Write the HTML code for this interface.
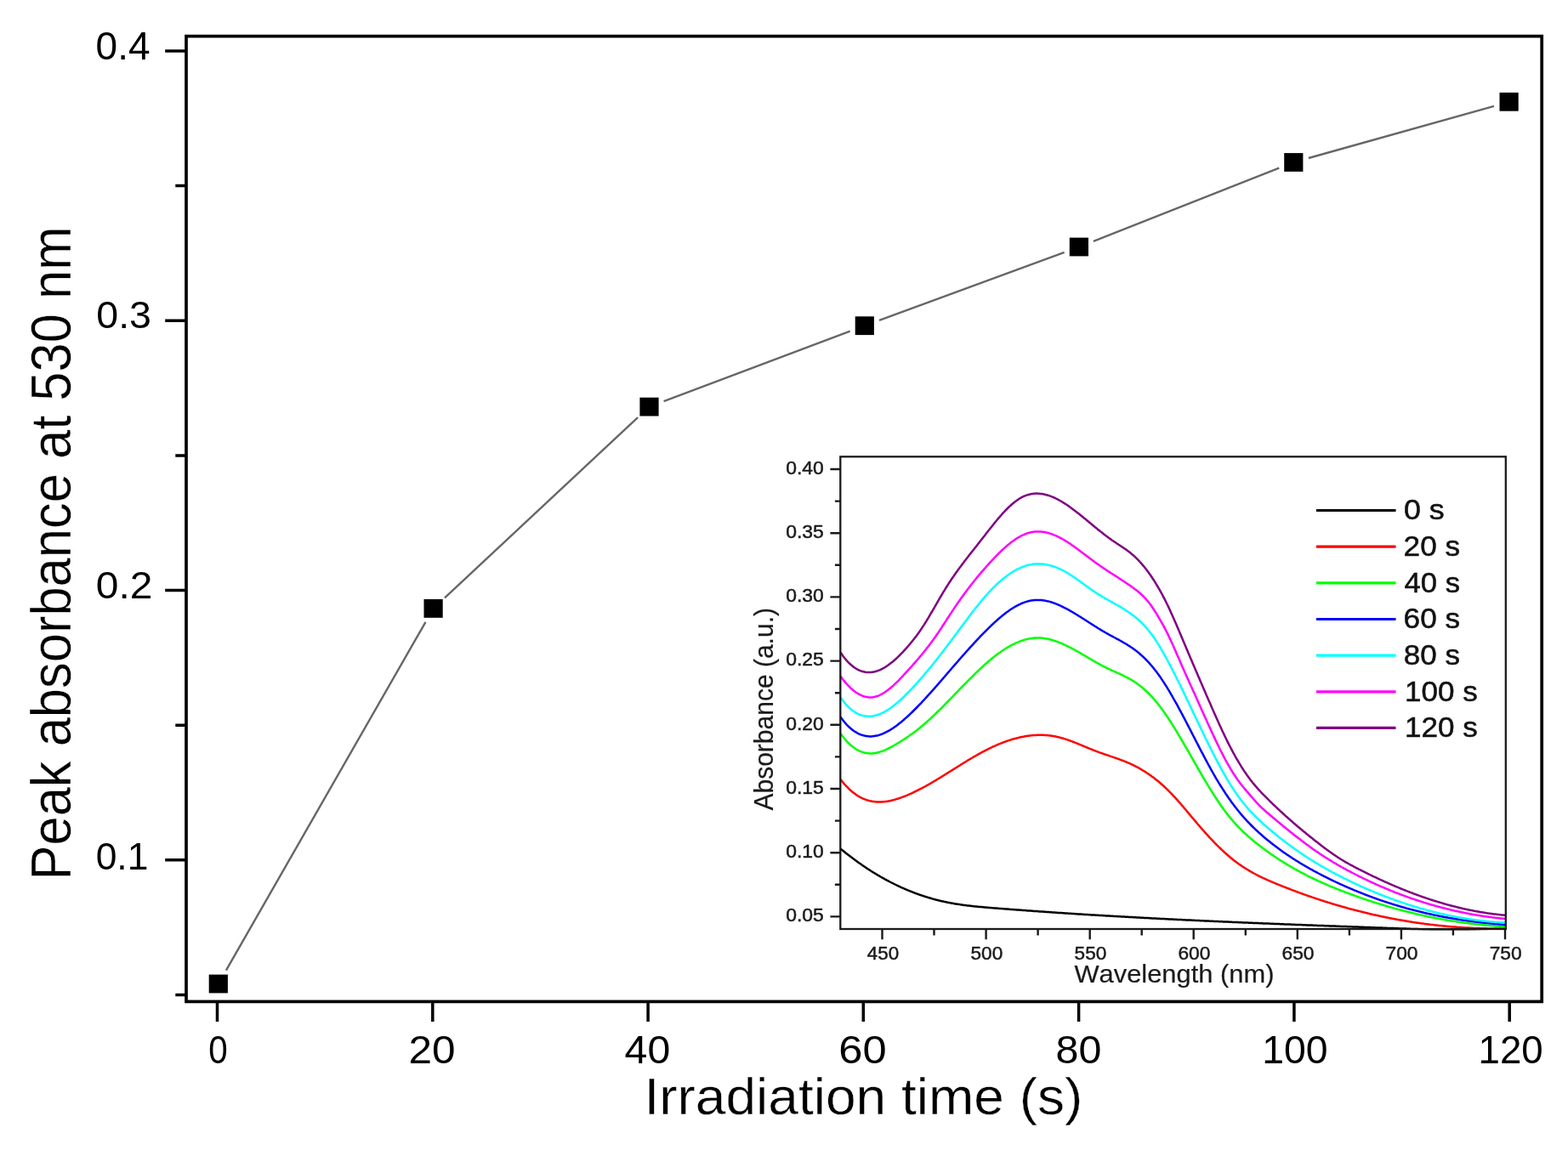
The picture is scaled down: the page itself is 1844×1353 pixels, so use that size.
<!DOCTYPE html><html><head><meta charset="utf-8"><title>Peak absorbance vs irradiation time</title>
<style>html,body{margin:0;padding:0;background:#fff;}svg{display:block;}text{font-family:'Liberation Sans',Arial,sans-serif;font-kerning:none;}</style></head><body>
<svg width="1844" height="1353" viewBox="0 0 1844 1353">
<rect width="1844" height="1353" fill="#fff"/>
<path d="M265.9,1141.6L500.5,731.8M523.0,703.4L750.1,491.1M780.6,472.1L999.7,389.7M1034.0,376.9L1251.7,296.8M1285.9,283.8L1504.3,197.7M1538.9,186.0L1757.0,124.8" stroke="#666" stroke-width="2.4" fill="none"/>
<rect x="245.7" y="1146.6" width="22.2" height="21.8" fill="#000"/>
<rect x="498.5" y="705.0" width="22.2" height="21.8" fill="#000"/>
<rect x="752.4" y="467.7" width="22.2" height="21.8" fill="#000"/>
<rect x="1005.7" y="372.3" width="22.2" height="21.8" fill="#000"/>
<rect x="1257.8" y="279.6" width="22.2" height="21.8" fill="#000"/>
<rect x="1510.2" y="180.1" width="22.2" height="21.8" fill="#000"/>
<rect x="1763.5" y="108.9" width="22.2" height="21.8" fill="#000"/>
<rect x="219.0" y="42.6" width="1594.2" height="1135.8" fill="none" stroke="#000" stroke-width="3.7"/>
<path d="M194.2,1011.8H219.0M194.2,694.5H219.0M194.2,377.3H219.0M194.2,60.0H219.0M206.3,1170.4H219.0M206.3,853.2H219.0M206.3,535.9H219.0M206.3,218.6H219.0M255.5,1178.4V1202M508.8,1178.4V1202M762.1,1178.4V1202M1015.3,1178.4V1202M1268.6,1178.4V1202M1521.9,1178.4V1202M1775.2,1178.4V1202" stroke="#000" stroke-width="3.5" fill="none"/>
<text transform="translate(112.60,70.25) scale(1.0052,1)" font-size="45.76" fill="#000">0.4</text>
<text transform="translate(113.28,385.96) scale(1.0406,1)" font-size="44.77" fill="#000">0.3</text>
<text transform="translate(112.83,703.67) scale(1.0851,1)" font-size="44.21" fill="#000">0.2</text>
<text transform="translate(112.67,1022.76) scale(0.9820,1)" font-size="45.20" fill="#000">0.1</text>
<text transform="translate(245.32,1251.05) scale(0.8742,1)" font-size="46.19" fill="#000">0</text>
<text transform="translate(480.51,1251.05) scale(1.0731,1)" font-size="46.19" fill="#000">20</text>
<text transform="translate(734.59,1251.05) scale(1.0431,1)" font-size="46.19" fill="#000">40</text>
<text transform="translate(986.23,1251.05) scale(1.0969,1)" font-size="46.19" fill="#000">60</text>
<text transform="translate(1241.50,1251.05) scale(1.0471,1)" font-size="46.19" fill="#000">80</text>
<text transform="translate(1484.27,1251.05) scale(1.0037,1)" font-size="46.19" fill="#000">100</text>
<text transform="translate(1738.52,1251.05) scale(0.9883,1)" font-size="46.19" fill="#000">120</text>
<text transform="translate(757.39,1311.20) scale(1.0569,1)" font-size="60.60" fill="#000" stroke="#fff" stroke-width="0.4">Irradiation time (s)</text>
<text transform="translate(83.00,1035.54) rotate(-90) scale(1,1.0734)" font-size="61.49" fill="#000" stroke="#fff" stroke-width="0.4">Peak absorbance at 530 nm</text>
<defs><clipPath id="ic"><rect x="988.3" y="537.3" width="782.5" height="557.2"/></clipPath></defs>
<g clip-path="url(#ic)" fill="none" stroke-width="2.5" stroke-linejoin="round">
<path d="M988.5,998.5 989.5,999.4 990.5,1000.2 991.5,1001.0 992.5,1001.8 993.5,1002.6 994.5,1003.4 995.5,1004.2 996.5,1005.0 997.5,1005.8 998.5,1006.5 999.5,1007.3 1000.5,1008.1 1001.5,1008.8 1002.5,1009.6 1003.5,1010.3 1004.5,1011.1 1005.5,1011.8 1006.5,1012.6 1007.5,1013.3 1008.5,1014.0 1009.5,1014.7 1010.5,1015.4 1011.5,1016.1 1012.5,1016.8 1013.5,1017.5 1014.5,1018.2 1015.5,1018.9 1016.5,1019.6 1017.5,1020.3 1018.5,1020.9 1019.5,1021.6 1020.5,1022.2 1021.5,1022.9 1022.5,1023.5 1023.5,1024.2 1024.5,1024.8 1025.5,1025.5 1026.5,1026.1 1027.5,1026.7 1028.5,1027.3 1029.5,1027.9 1030.5,1028.5 1031.5,1029.1 1032.5,1029.7 1033.5,1030.3 1034.5,1030.9 1035.5,1031.5 1036.5,1032.0 1037.5,1032.6 1038.5,1033.2 1039.5,1033.7 1040.5,1034.3 1041.5,1034.8 1042.5,1035.4 1043.5,1035.9 1044.5,1036.4 1045.5,1037.0 1046.5,1037.5 1047.5,1038.0 1048.5,1038.5 1049.5,1039.0 1050.5,1039.5 1051.5,1040.0 1052.5,1040.5 1053.5,1041.0 1054.5,1041.5 1055.5,1042.0 1056.5,1042.4 1057.5,1042.9 1058.5,1043.4 1059.5,1043.8 1060.5,1044.3 1061.5,1044.7 1062.5,1045.2 1063.5,1045.6 1064.5,1046.0 1065.5,1046.5 1066.5,1046.9 1067.5,1047.3 1068.5,1047.7 1069.5,1048.1 1070.5,1048.5 1071.5,1048.9 1072.5,1049.3 1073.5,1049.7 1074.5,1050.1 1075.5,1050.5 1076.5,1050.9 1077.5,1051.2 1078.5,1051.6 1079.5,1052.0 1080.5,1052.3 1081.5,1052.7 1082.5,1053.0 1083.5,1053.3 1084.5,1053.7 1085.5,1054.0 1086.5,1054.3 1087.5,1054.7 1088.5,1055.0 1089.5,1055.3 1090.5,1055.6 1091.5,1055.9 1092.5,1056.2 1093.5,1056.5 1094.5,1056.8 1095.5,1057.1 1096.5,1057.4 1097.5,1057.7 1098.5,1057.9 1099.5,1058.2 1100.5,1058.5 1101.5,1058.7 1102.5,1059.0 1103.5,1059.2 1104.5,1059.5 1105.5,1059.7 1106.5,1060.0 1107.5,1060.2 1108.5,1060.4 1109.5,1060.6 1110.5,1060.9 1111.5,1061.1 1112.5,1061.3 1113.5,1061.5 1114.5,1061.7 1115.5,1061.9 1116.5,1062.1 1117.5,1062.3 1118.5,1062.5 1119.5,1062.7 1120.5,1062.8 1121.5,1063.0 1122.5,1063.2 1123.5,1063.4 1124.5,1063.5 1125.5,1063.7 1126.5,1063.8 1127.5,1064.0 1128.5,1064.1 1129.5,1064.3 1130.5,1064.4 1131.5,1064.6 1132.5,1064.7 1133.5,1064.9 1134.5,1065.0 1135.5,1065.1 1136.5,1065.2 1137.5,1065.4 1138.5,1065.5 1139.5,1065.6 1140.5,1065.7 1141.5,1065.8 1142.5,1066.0 1143.5,1066.1 1144.5,1066.2 1145.5,1066.3 1146.5,1066.4 1147.5,1066.5 1148.5,1066.6 1149.5,1066.7 1150.5,1066.8 1151.5,1066.9 1152.5,1067.0 1153.5,1067.1 1154.5,1067.1 1155.5,1067.2 1156.5,1067.3 1157.5,1067.4 1158.5,1067.5 1159.5,1067.6 1160.5,1067.7 1161.5,1067.8 1162.5,1067.8 1163.5,1067.9 1164.5,1068.0 1165.5,1068.1 1166.5,1068.2 1167.5,1068.2 1168.5,1068.3 1169.5,1068.4 1170.5,1068.5 1171.5,1068.6 1172.5,1068.6 1173.5,1068.7 1174.5,1068.8 1175.5,1068.9 1176.5,1069.0 1177.5,1069.0 1178.5,1069.1 1179.5,1069.2 1180.5,1069.3 1181.5,1069.3 1182.5,1069.4 1183.5,1069.5 1184.5,1069.6 1185.5,1069.6 1186.5,1069.7 1187.5,1069.8 1188.5,1069.9 1189.5,1070.0 1190.5,1070.0 1191.5,1070.1 1192.5,1070.2 1193.5,1070.3 1194.5,1070.3 1195.5,1070.4 1196.5,1070.5 1197.5,1070.6 1198.5,1070.6 1199.5,1070.7 1200.5,1070.8 1201.5,1070.8 1202.5,1070.9 1203.5,1071.0 1204.5,1071.1 1205.5,1071.1 1206.5,1071.2 1207.5,1071.3 1208.5,1071.4 1209.5,1071.4 1210.5,1071.5 1211.5,1071.6 1212.5,1071.6 1213.5,1071.7 1214.5,1071.8 1215.5,1071.9 1216.5,1071.9 1217.5,1072.0 1218.5,1072.1 1219.5,1072.1 1220.5,1072.2 1221.5,1072.3 1222.5,1072.4 1223.5,1072.4 1224.5,1072.5 1225.5,1072.6 1226.5,1072.6 1227.5,1072.7 1228.5,1072.8 1229.5,1072.8 1230.5,1072.9 1231.5,1073.0 1232.5,1073.1 1233.5,1073.1 1234.5,1073.2 1235.5,1073.3 1236.5,1073.3 1237.5,1073.4 1238.5,1073.5 1239.5,1073.5 1240.5,1073.6 1241.5,1073.7 1242.5,1073.7 1243.5,1073.8 1244.5,1073.9 1245.5,1073.9 1246.5,1074.0 1247.5,1074.1 1248.5,1074.1 1249.5,1074.2 1250.5,1074.3 1251.5,1074.3 1252.5,1074.4 1253.5,1074.5 1254.5,1074.5 1255.5,1074.6 1256.5,1074.7 1257.5,1074.7 1258.5,1074.8 1259.5,1074.8 1260.5,1074.9 1261.5,1075.0 1262.5,1075.0 1263.5,1075.1 1264.5,1075.2 1265.5,1075.2 1266.5,1075.3 1267.5,1075.4 1268.5,1075.4 1269.5,1075.5 1270.5,1075.5 1271.5,1075.6 1272.5,1075.7 1273.5,1075.7 1274.5,1075.8 1275.5,1075.9 1276.5,1075.9 1277.5,1076.0 1278.5,1076.0 1279.5,1076.1 1280.5,1076.2 1281.5,1076.2 1282.5,1076.3 1283.5,1076.4 1284.5,1076.4 1285.5,1076.5 1286.5,1076.5 1287.5,1076.6 1288.5,1076.7 1289.5,1076.7 1290.5,1076.8 1291.5,1076.8 1292.5,1076.9 1293.5,1077.0 1294.5,1077.0 1295.5,1077.1 1296.5,1077.1 1297.5,1077.2 1298.5,1077.2 1299.5,1077.3 1300.5,1077.4 1301.5,1077.4 1302.5,1077.5 1303.5,1077.5 1304.5,1077.6 1305.5,1077.7 1306.5,1077.7 1307.5,1077.8 1308.5,1077.8 1309.5,1077.9 1310.5,1077.9 1311.5,1078.0 1312.5,1078.1 1313.5,1078.1 1314.5,1078.2 1315.5,1078.2 1316.5,1078.3 1317.5,1078.3 1318.5,1078.4 1319.5,1078.5 1320.5,1078.5 1321.5,1078.6 1322.5,1078.6 1323.5,1078.7 1324.5,1078.7 1325.5,1078.8 1326.5,1078.8 1327.5,1078.9 1328.5,1079.0 1329.5,1079.0 1330.5,1079.1 1331.5,1079.1 1332.5,1079.2 1333.5,1079.2 1334.5,1079.3 1335.5,1079.3 1336.5,1079.4 1337.5,1079.5 1338.5,1079.5 1339.5,1079.6 1340.5,1079.6 1341.5,1079.7 1342.5,1079.7 1343.5,1079.8 1344.5,1079.8 1345.5,1079.9 1346.5,1079.9 1347.5,1080.0 1348.5,1080.0 1349.5,1080.1 1350.5,1080.1 1351.5,1080.2 1352.5,1080.2 1353.5,1080.3 1354.5,1080.4 1355.5,1080.4 1356.5,1080.5 1357.5,1080.5 1358.5,1080.6 1359.5,1080.6 1360.5,1080.7 1361.5,1080.7 1362.5,1080.8 1363.5,1080.8 1364.5,1080.9 1365.5,1080.9 1366.5,1081.0 1367.5,1081.0 1368.5,1081.1 1369.5,1081.1 1370.5,1081.2 1371.5,1081.2 1372.5,1081.3 1373.5,1081.3 1374.5,1081.4 1375.5,1081.4 1376.5,1081.5 1377.5,1081.5 1378.5,1081.6 1379.5,1081.6 1380.5,1081.7 1381.5,1081.7 1382.5,1081.8 1383.5,1081.8 1384.5,1081.9 1385.5,1081.9 1386.5,1082.0 1387.5,1082.0 1388.5,1082.1 1389.5,1082.1 1390.5,1082.2 1391.5,1082.2 1392.5,1082.3 1393.5,1082.3 1394.5,1082.4 1395.5,1082.4 1396.5,1082.4 1397.5,1082.5 1398.5,1082.5 1399.5,1082.6 1400.5,1082.6 1401.5,1082.7 1402.5,1082.7 1403.5,1082.8 1404.5,1082.8 1405.5,1082.9 1406.5,1082.9 1407.5,1083.0 1408.5,1083.0 1409.5,1083.1 1410.5,1083.1 1411.5,1083.2 1412.5,1083.2 1413.5,1083.2 1414.5,1083.3 1415.5,1083.3 1416.5,1083.4 1417.5,1083.4 1418.5,1083.5 1419.5,1083.5 1420.5,1083.6 1421.5,1083.6 1422.5,1083.7 1423.5,1083.7 1424.5,1083.7 1425.5,1083.8 1426.5,1083.8 1427.5,1083.9 1428.5,1083.9 1429.5,1084.0 1430.5,1084.0 1431.5,1084.1 1432.5,1084.1 1433.5,1084.2 1434.5,1084.2 1435.5,1084.2 1436.5,1084.3 1437.5,1084.3 1438.5,1084.4 1439.5,1084.4 1440.5,1084.5 1441.5,1084.5 1442.5,1084.5 1443.5,1084.6 1444.5,1084.6 1445.5,1084.7 1446.5,1084.7 1447.5,1084.8 1448.5,1084.8 1449.5,1084.9 1450.5,1084.9 1451.5,1084.9 1452.5,1085.0 1453.5,1085.0 1454.5,1085.1 1455.5,1085.1 1456.5,1085.2 1457.5,1085.2 1458.5,1085.2 1459.5,1085.3 1460.5,1085.3 1461.5,1085.4 1462.5,1085.4 1463.5,1085.5 1464.5,1085.5 1465.5,1085.5 1466.5,1085.6 1467.5,1085.6 1468.5,1085.7 1469.5,1085.7 1470.5,1085.7 1471.5,1085.8 1472.5,1085.8 1473.5,1085.9 1474.5,1085.9 1475.5,1086.0 1476.5,1086.0 1477.5,1086.0 1478.5,1086.1 1479.5,1086.1 1480.5,1086.2 1481.5,1086.2 1482.5,1086.2 1483.5,1086.3 1484.5,1086.3 1485.5,1086.4 1486.5,1086.4 1487.5,1086.4 1488.5,1086.5 1489.5,1086.5 1490.5,1086.6 1491.5,1086.6 1492.5,1086.6 1493.5,1086.7 1494.5,1086.7 1495.5,1086.8 1496.5,1086.8 1497.5,1086.8 1498.5,1086.9 1499.5,1086.9 1500.5,1087.0 1501.5,1087.0 1502.5,1087.0 1503.5,1087.1 1504.5,1087.1 1505.5,1087.2 1506.5,1087.2 1507.5,1087.2 1508.5,1087.3 1509.5,1087.3 1510.5,1087.4 1511.5,1087.4 1512.5,1087.4 1513.5,1087.5 1514.5,1087.5 1515.5,1087.6 1516.5,1087.6 1517.5,1087.6 1518.5,1087.7 1519.5,1087.7 1520.5,1087.8 1521.5,1087.8 1522.5,1087.8 1523.5,1087.9 1524.5,1087.9 1525.5,1087.9 1526.5,1088.0 1527.5,1088.0 1528.5,1088.1 1529.5,1088.1 1530.5,1088.1 1531.5,1088.2 1532.5,1088.2 1533.5,1088.3 1534.5,1088.3 1535.5,1088.3 1536.5,1088.4 1537.5,1088.4 1538.5,1088.4 1539.5,1088.5 1540.5,1088.5 1541.5,1088.6 1542.5,1088.6 1543.5,1088.6 1544.5,1088.7 1545.5,1088.7 1546.5,1088.7 1547.5,1088.8 1548.5,1088.8 1549.5,1088.9 1550.5,1088.9 1551.5,1088.9 1552.5,1089.0 1553.5,1089.0 1554.5,1089.0 1555.5,1089.1 1556.5,1089.1 1557.5,1089.2 1558.5,1089.2 1559.5,1089.2 1560.5,1089.3 1561.5,1089.3 1562.5,1089.3 1563.5,1089.4 1564.5,1089.4 1565.5,1089.5 1566.5,1089.5 1567.5,1089.5 1568.5,1089.6 1569.5,1089.6 1570.5,1089.6 1571.5,1089.7 1572.5,1089.7 1573.5,1089.8 1574.5,1089.8 1575.5,1089.8 1576.5,1089.9 1577.5,1089.9 1578.5,1089.9 1579.5,1090.0 1580.5,1090.0 1581.5,1090.0 1582.5,1090.1 1583.5,1090.1 1584.5,1090.2 1585.5,1090.2 1586.5,1090.2 1587.5,1090.3 1588.5,1090.3 1589.5,1090.3 1590.5,1090.4 1591.5,1090.4 1592.5,1090.5 1593.5,1090.5 1594.5,1090.5 1595.5,1090.6 1596.5,1090.6 1597.5,1090.6 1598.5,1090.7 1599.5,1090.7 1600.5,1090.7 1601.5,1090.8 1602.5,1090.8 1603.5,1090.8 1604.5,1090.9 1605.5,1090.9 1606.5,1091.0 1607.5,1091.0 1608.5,1091.0 1609.5,1091.1 1610.5,1091.1 1611.5,1091.1 1612.5,1091.2 1613.5,1091.2 1614.5,1091.2 1615.5,1091.3 1616.5,1091.3 1617.5,1091.4 1618.5,1091.4 1619.5,1091.4 1620.5,1091.5 1621.5,1091.5 1622.5,1091.5 1623.5,1091.6 1624.5,1091.6 1625.5,1091.6 1626.5,1091.7 1627.5,1091.7 1628.5,1091.7 1629.5,1091.8 1630.5,1091.8 1631.5,1091.9 1632.5,1091.9 1633.5,1091.9 1634.5,1092.0 1635.5,1092.0 1636.5,1092.0 1637.5,1092.1 1638.5,1092.1 1639.5,1092.1 1640.5,1092.2 1641.5,1092.2 1642.5,1092.3 1643.5,1092.3 1644.5,1092.3 1645.5,1092.4 1646.5,1092.4 1647.5,1092.4 1648.5,1092.5 1649.5,1092.5 1650.5,1092.5 1651.5,1092.6 1652.5,1092.6 1653.5,1092.6 1654.5,1092.7 1655.5,1092.7 1656.5,1092.8 1657.5,1092.8 1658.5,1092.8 1659.5,1092.9 1660.5,1092.9 1661.5,1092.9 1662.5,1093.0 1663.5,1093.0 1664.5,1093.0 1665.5,1093.1 1666.5,1093.1 1667.5,1093.1 1668.5,1093.2 1669.5,1093.2 1670.5,1093.3 1671.5,1093.3 1672.5,1093.3 1673.5,1093.4 1674.5,1093.4 1675.5,1093.4 1676.5,1093.5 1677.5,1093.5 1678.5,1093.5 1679.5,1093.6 1680.5,1093.6 1681.5,1093.7 1682.5,1093.7 1683.5,1093.7 1684.5,1093.8 1685.5,1093.8 1686.5,1093.8 1687.5,1093.9 1688.5,1093.9 1689.5,1093.9 1690.5,1094.0 1691.5,1094.0 1692.5,1094.1 1693.5,1094.1 1694.5,1094.1 1695.5,1094.2 1696.5,1094.2 1697.5,1094.2 1698.5,1094.3 1699.5,1094.3 1700.5,1094.3 1701.5,1094.4 1702.5,1094.4 1703.5,1094.5 1704.5,1094.5 1705.5,1094.5 1706.5,1094.6 1707.5,1094.6 1708.5,1094.6 1709.5,1094.7 1710.5,1094.7 1711.5,1094.7 1712.5,1094.8 1713.5,1094.8 1714.5,1094.9 1715.5,1094.9 1716.5,1094.9 1717.5,1095.0 1718.5,1095.0 1719.5,1095.0 1720.5,1095.1 1721.5,1095.1 1722.5,1095.1 1723.5,1095.2 1724.5,1095.2 1725.5,1095.3 1726.5,1095.3 1727.5,1095.3 1728.5,1095.4 1729.5,1095.4 1730.5,1095.4 1731.5,1095.5 1732.5,1095.5 1733.5,1095.6 1734.5,1095.6 1735.5,1095.6 1736.5,1095.7 1737.5,1095.7 1738.5,1095.7 1739.5,1095.8 1740.5,1095.8 1741.5,1095.9 1742.5,1095.9 1743.5,1095.9 1744.5,1096.0 1745.5,1096.0 1746.5,1096.0 1747.5,1096.1 1748.5,1096.1 1749.5,1096.2 1750.5,1096.2 1751.5,1096.2 1752.5,1096.3 1753.5,1096.3 1754.5,1096.3 1755.5,1096.4 1756.5,1096.4 1757.5,1096.5 1758.5,1096.5 1759.5,1096.5 1760.5,1096.6 1761.5,1096.6 1762.5,1096.7 1763.5,1096.7 1764.5,1096.7 1765.5,1096.8 1766.5,1096.8 1767.5,1096.8 1768.5,1096.9 1769.5,1096.9 1770.5,1097.0" stroke="#000000"/>
<path d="M988.5,916.9 989.5,918.2 990.5,919.5 991.5,920.7 992.5,921.9 993.5,923.0 994.5,924.1 995.5,925.2 996.5,926.2 997.5,927.2 998.5,928.2 999.5,929.1 1000.5,930.0 1001.5,930.9 1002.5,931.7 1003.5,932.5 1004.5,933.3 1005.5,934.0 1006.5,934.8 1007.5,935.4 1008.5,936.1 1009.5,936.7 1010.5,937.3 1011.5,937.8 1012.5,938.4 1013.5,938.9 1014.5,939.3 1015.5,939.8 1016.5,940.2 1017.5,940.6 1018.5,940.9 1019.5,941.3 1020.5,941.6 1021.5,941.9 1022.5,942.1 1023.5,942.4 1024.5,942.6 1025.5,942.8 1026.5,943.0 1027.5,943.1 1028.5,943.2 1029.5,943.3 1030.5,943.4 1031.5,943.5 1032.5,943.5 1033.5,943.5 1034.5,943.5 1035.5,943.5 1036.5,943.5 1037.5,943.4 1038.5,943.3 1039.5,943.3 1040.5,943.2 1041.5,943.0 1042.5,942.9 1043.5,942.7 1044.5,942.6 1045.5,942.4 1046.5,942.2 1047.5,942.0 1048.5,941.7 1049.5,941.5 1050.5,941.2 1051.5,941.0 1052.5,940.7 1053.5,940.4 1054.5,940.1 1055.5,939.8 1056.5,939.5 1057.5,939.1 1058.5,938.8 1059.5,938.4 1060.5,938.1 1061.5,937.7 1062.5,937.3 1063.5,937.0 1064.5,936.6 1065.5,936.2 1066.5,935.8 1067.5,935.3 1068.5,934.9 1069.5,934.5 1070.5,934.0 1071.5,933.6 1072.5,933.1 1073.5,932.7 1074.5,932.2 1075.5,931.7 1076.5,931.2 1077.5,930.7 1078.5,930.2 1079.5,929.7 1080.5,929.2 1081.5,928.7 1082.5,928.2 1083.5,927.7 1084.5,927.1 1085.5,926.6 1086.5,926.1 1087.5,925.5 1088.5,925.0 1089.5,924.4 1090.5,923.8 1091.5,923.3 1092.5,922.7 1093.5,922.1 1094.5,921.6 1095.5,921.0 1096.5,920.4 1097.5,919.8 1098.5,919.2 1099.5,918.6 1100.5,918.0 1101.5,917.4 1102.5,916.8 1103.5,916.2 1104.5,915.6 1105.5,915.0 1106.5,914.4 1107.5,913.7 1108.5,913.1 1109.5,912.5 1110.5,911.9 1111.5,911.3 1112.5,910.6 1113.5,910.0 1114.5,909.4 1115.5,908.8 1116.5,908.1 1117.5,907.5 1118.5,906.9 1119.5,906.2 1120.5,905.6 1121.5,905.0 1122.5,904.4 1123.5,903.7 1124.5,903.1 1125.5,902.5 1126.5,901.8 1127.5,901.2 1128.5,900.6 1129.5,900.0 1130.5,899.3 1131.5,898.7 1132.5,898.1 1133.5,897.5 1134.5,896.9 1135.5,896.3 1136.5,895.7 1137.5,895.0 1138.5,894.4 1139.5,893.8 1140.5,893.2 1141.5,892.6 1142.5,892.0 1143.5,891.5 1144.5,890.9 1145.5,890.3 1146.5,889.7 1147.5,889.1 1148.5,888.6 1149.5,888.0 1150.5,887.4 1151.5,886.9 1152.5,886.3 1153.5,885.8 1154.5,885.2 1155.5,884.7 1156.5,884.2 1157.5,883.6 1158.5,883.1 1159.5,882.6 1160.5,882.1 1161.5,881.6 1162.5,881.1 1163.5,880.6 1164.5,880.1 1165.5,879.6 1166.5,879.2 1167.5,878.7 1168.5,878.2 1169.5,877.8 1170.5,877.3 1171.5,876.9 1172.5,876.5 1173.5,876.0 1174.5,875.6 1175.5,875.2 1176.5,874.8 1177.5,874.4 1178.5,874.0 1179.5,873.6 1180.5,873.2 1181.5,872.8 1182.5,872.5 1183.5,872.1 1184.5,871.8 1185.5,871.4 1186.5,871.1 1187.5,870.8 1188.5,870.5 1189.5,870.1 1190.5,869.8 1191.5,869.5 1192.5,869.3 1193.5,869.0 1194.5,868.7 1195.5,868.5 1196.5,868.2 1197.5,868.0 1198.5,867.7 1199.5,867.5 1200.5,867.3 1201.5,867.1 1202.5,866.9 1203.5,866.7 1204.5,866.5 1205.5,866.3 1206.5,866.1 1207.5,866.0 1208.5,865.8 1209.5,865.7 1210.5,865.6 1211.5,865.4 1212.5,865.3 1213.5,865.2 1214.5,865.1 1215.5,865.0 1216.5,865.0 1217.5,864.9 1218.5,864.9 1219.5,864.8 1220.5,864.8 1221.5,864.8 1222.5,864.8 1223.5,864.7 1224.5,864.8 1225.5,864.8 1226.5,864.8 1227.5,864.8 1228.5,864.9 1229.5,865.0 1230.5,865.0 1231.5,865.1 1232.5,865.2 1233.5,865.3 1234.5,865.4 1235.5,865.5 1236.5,865.7 1237.5,865.8 1238.5,866.0 1239.5,866.2 1240.5,866.3 1241.5,866.5 1242.5,866.7 1243.5,867.0 1244.5,867.2 1245.5,867.4 1246.5,867.7 1247.5,868.0 1248.5,868.2 1249.5,868.5 1250.5,868.8 1251.5,869.1 1252.5,869.4 1253.5,869.8 1254.5,870.1 1255.5,870.4 1256.5,870.8 1257.5,871.1 1258.5,871.5 1259.5,871.9 1260.5,872.2 1261.5,872.6 1262.5,873.0 1263.5,873.4 1264.5,873.8 1265.5,874.2 1266.5,874.6 1267.5,875.0 1268.5,875.4 1269.5,875.8 1270.5,876.2 1271.5,876.6 1272.5,877.1 1273.5,877.5 1274.5,877.9 1275.5,878.3 1276.5,878.7 1277.5,879.1 1278.5,879.6 1279.5,880.0 1280.5,880.4 1281.5,880.8 1282.5,881.2 1283.5,881.6 1284.5,882.0 1285.5,882.4 1286.5,882.8 1287.5,883.2 1288.5,883.6 1289.5,884.0 1290.5,884.3 1291.5,884.7 1292.5,885.1 1293.5,885.4 1294.5,885.8 1295.5,886.1 1296.5,886.5 1297.5,886.8 1298.5,887.2 1299.5,887.5 1300.5,887.9 1301.5,888.2 1302.5,888.5 1303.5,888.9 1304.5,889.2 1305.5,889.6 1306.5,889.9 1307.5,890.2 1308.5,890.6 1309.5,890.9 1310.5,891.3 1311.5,891.6 1312.5,892.0 1313.5,892.3 1314.5,892.7 1315.5,893.0 1316.5,893.4 1317.5,893.8 1318.5,894.2 1319.5,894.5 1320.5,894.9 1321.5,895.3 1322.5,895.7 1323.5,896.1 1324.5,896.5 1325.5,896.9 1326.5,897.4 1327.5,897.8 1328.5,898.2 1329.5,898.7 1330.5,899.1 1331.5,899.6 1332.5,900.1 1333.5,900.6 1334.5,901.1 1335.5,901.6 1336.5,902.1 1337.5,902.6 1338.5,903.2 1339.5,903.7 1340.5,904.3 1341.5,904.9 1342.5,905.5 1343.5,906.1 1344.5,906.7 1345.5,907.3 1346.5,907.9 1347.5,908.5 1348.5,909.2 1349.5,909.9 1350.5,910.5 1351.5,911.2 1352.5,911.9 1353.5,912.6 1354.5,913.4 1355.5,914.1 1356.5,914.8 1357.5,915.6 1358.5,916.4 1359.5,917.2 1360.5,918.0 1361.5,918.8 1362.5,919.6 1363.5,920.4 1364.5,921.3 1365.5,922.2 1366.5,923.0 1367.5,923.9 1368.5,924.8 1369.5,925.8 1370.5,926.7 1371.5,927.6 1372.5,928.6 1373.5,929.6 1374.5,930.6 1375.5,931.6 1376.5,932.6 1377.5,933.6 1378.5,934.7 1379.5,935.8 1380.5,936.8 1381.5,937.9 1382.5,939.0 1383.5,940.1 1384.5,941.2 1385.5,942.4 1386.5,943.5 1387.5,944.6 1388.5,945.8 1389.5,947.0 1390.5,948.1 1391.5,949.3 1392.5,950.5 1393.5,951.6 1394.5,952.8 1395.5,954.0 1396.5,955.2 1397.5,956.4 1398.5,957.6 1399.5,958.8 1400.5,960.0 1401.5,961.2 1402.5,962.4 1403.5,963.5 1404.5,964.7 1405.5,965.9 1406.5,967.1 1407.5,968.3 1408.5,969.5 1409.5,970.6 1410.5,971.8 1411.5,973.0 1412.5,974.1 1413.5,975.3 1414.5,976.4 1415.5,977.5 1416.5,978.7 1417.5,979.8 1418.5,980.9 1419.5,982.0 1420.5,983.1 1421.5,984.2 1422.5,985.3 1423.5,986.3 1424.5,987.4 1425.5,988.4 1426.5,989.5 1427.5,990.5 1428.5,991.6 1429.5,992.6 1430.5,993.6 1431.5,994.6 1432.5,995.6 1433.5,996.6 1434.5,997.5 1435.5,998.5 1436.5,999.5 1437.5,1000.4 1438.5,1001.3 1439.5,1002.3 1440.5,1003.2 1441.5,1004.1 1442.5,1005.0 1443.5,1005.8 1444.5,1006.7 1445.5,1007.6 1446.5,1008.4 1447.5,1009.2 1448.5,1010.1 1449.5,1010.9 1450.5,1011.7 1451.5,1012.5 1452.5,1013.2 1453.5,1014.0 1454.5,1014.7 1455.5,1015.5 1456.5,1016.2 1457.5,1016.9 1458.5,1017.6 1459.5,1018.3 1460.5,1019.0 1461.5,1019.7 1462.5,1020.3 1463.5,1021.0 1464.5,1021.6 1465.5,1022.2 1466.5,1022.8 1467.5,1023.4 1468.5,1024.0 1469.5,1024.6 1470.5,1025.2 1471.5,1025.8 1472.5,1026.4 1473.5,1026.9 1474.5,1027.5 1475.5,1028.0 1476.5,1028.5 1477.5,1029.0 1478.5,1029.6 1479.5,1030.1 1480.5,1030.6 1481.5,1031.1 1482.5,1031.6 1483.5,1032.1 1484.5,1032.5 1485.5,1033.0 1486.5,1033.5 1487.5,1033.9 1488.5,1034.4 1489.5,1034.8 1490.5,1035.3 1491.5,1035.7 1492.5,1036.2 1493.5,1036.6 1494.5,1037.0 1495.5,1037.5 1496.5,1037.9 1497.5,1038.3 1498.5,1038.7 1499.5,1039.1 1500.5,1039.6 1501.5,1040.0 1502.5,1040.4 1503.5,1040.8 1504.5,1041.2 1505.5,1041.6 1506.5,1042.0 1507.5,1042.4 1508.5,1042.8 1509.5,1043.2 1510.5,1043.6 1511.5,1044.0 1512.5,1044.4 1513.5,1044.8 1514.5,1045.1 1515.5,1045.5 1516.5,1045.9 1517.5,1046.3 1518.5,1046.7 1519.5,1047.1 1520.5,1047.4 1521.5,1047.8 1522.5,1048.2 1523.5,1048.6 1524.5,1049.0 1525.5,1049.3 1526.5,1049.7 1527.5,1050.1 1528.5,1050.4 1529.5,1050.8 1530.5,1051.2 1531.5,1051.5 1532.5,1051.9 1533.5,1052.2 1534.5,1052.6 1535.5,1052.9 1536.5,1053.3 1537.5,1053.7 1538.5,1054.0 1539.5,1054.4 1540.5,1054.7 1541.5,1055.0 1542.5,1055.4 1543.5,1055.7 1544.5,1056.1 1545.5,1056.4 1546.5,1056.7 1547.5,1057.1 1548.5,1057.4 1549.5,1057.7 1550.5,1058.1 1551.5,1058.4 1552.5,1058.7 1553.5,1059.1 1554.5,1059.4 1555.5,1059.7 1556.5,1060.0 1557.5,1060.4 1558.5,1060.7 1559.5,1061.0 1560.5,1061.3 1561.5,1061.6 1562.5,1061.9 1563.5,1062.2 1564.5,1062.5 1565.5,1062.9 1566.5,1063.2 1567.5,1063.5 1568.5,1063.8 1569.5,1064.1 1570.5,1064.4 1571.5,1064.7 1572.5,1065.0 1573.5,1065.3 1574.5,1065.5 1575.5,1065.8 1576.5,1066.1 1577.5,1066.4 1578.5,1066.7 1579.5,1067.0 1580.5,1067.3 1581.5,1067.5 1582.5,1067.8 1583.5,1068.1 1584.5,1068.4 1585.5,1068.7 1586.5,1068.9 1587.5,1069.2 1588.5,1069.5 1589.5,1069.7 1590.5,1070.0 1591.5,1070.3 1592.5,1070.5 1593.5,1070.8 1594.5,1071.1 1595.5,1071.3 1596.5,1071.6 1597.5,1071.8 1598.5,1072.1 1599.5,1072.3 1600.5,1072.6 1601.5,1072.8 1602.5,1073.1 1603.5,1073.3 1604.5,1073.6 1605.5,1073.8 1606.5,1074.1 1607.5,1074.3 1608.5,1074.5 1609.5,1074.8 1610.5,1075.0 1611.5,1075.3 1612.5,1075.5 1613.5,1075.7 1614.5,1075.9 1615.5,1076.2 1616.5,1076.4 1617.5,1076.6 1618.5,1076.8 1619.5,1077.1 1620.5,1077.3 1621.5,1077.5 1622.5,1077.7 1623.5,1077.9 1624.5,1078.1 1625.5,1078.4 1626.5,1078.6 1627.5,1078.8 1628.5,1079.0 1629.5,1079.2 1630.5,1079.4 1631.5,1079.6 1632.5,1079.8 1633.5,1080.0 1634.5,1080.2 1635.5,1080.4 1636.5,1080.6 1637.5,1080.8 1638.5,1081.0 1639.5,1081.2 1640.5,1081.3 1641.5,1081.5 1642.5,1081.7 1643.5,1081.9 1644.5,1082.1 1645.5,1082.3 1646.5,1082.4 1647.5,1082.6 1648.5,1082.8 1649.5,1083.0 1650.5,1083.1 1651.5,1083.3 1652.5,1083.5 1653.5,1083.6 1654.5,1083.8 1655.5,1084.0 1656.5,1084.1 1657.5,1084.3 1658.5,1084.4 1659.5,1084.6 1660.5,1084.8 1661.5,1084.9 1662.5,1085.1 1663.5,1085.2 1664.5,1085.4 1665.5,1085.5 1666.5,1085.7 1667.5,1085.8 1668.5,1086.0 1669.5,1086.1 1670.5,1086.2 1671.5,1086.4 1672.5,1086.5 1673.5,1086.6 1674.5,1086.8 1675.5,1086.9 1676.5,1087.0 1677.5,1087.2 1678.5,1087.3 1679.5,1087.4 1680.5,1087.5 1681.5,1087.7 1682.5,1087.8 1683.5,1087.9 1684.5,1088.0 1685.5,1088.1 1686.5,1088.3 1687.5,1088.4 1688.5,1088.5 1689.5,1088.6 1690.5,1088.7 1691.5,1088.8 1692.5,1088.9 1693.5,1089.0 1694.5,1089.1 1695.5,1089.2 1696.5,1089.3 1697.5,1089.4 1698.5,1089.5 1699.5,1089.6 1700.5,1089.7 1701.5,1089.8 1702.5,1089.9 1703.5,1090.0 1704.5,1090.1 1705.5,1090.2 1706.5,1090.2 1707.5,1090.3 1708.5,1090.4 1709.5,1090.5 1710.5,1090.6 1711.5,1090.6 1712.5,1090.7 1713.5,1090.8 1714.5,1090.9 1715.5,1090.9 1716.5,1091.0 1717.5,1091.1 1718.5,1091.1 1719.5,1091.2 1720.5,1091.2 1721.5,1091.3 1722.5,1091.4 1723.5,1091.4 1724.5,1091.5 1725.5,1091.5 1726.5,1091.6 1727.5,1091.6 1728.5,1091.7 1729.5,1091.7 1730.5,1091.8 1731.5,1091.8 1732.5,1091.9 1733.5,1091.9 1734.5,1091.9 1735.5,1092.0 1736.5,1092.0 1737.5,1092.1 1738.5,1092.1 1739.5,1092.1 1740.5,1092.2 1741.5,1092.2 1742.5,1092.2 1743.5,1092.2 1744.5,1092.3 1745.5,1092.3 1746.5,1092.3 1747.5,1092.3 1748.5,1092.3 1749.5,1092.4 1750.5,1092.4 1751.5,1092.4 1752.5,1092.4 1753.5,1092.4 1754.5,1092.4 1755.5,1092.4 1756.5,1092.4 1757.5,1092.4 1758.5,1092.4 1759.5,1092.4 1760.5,1092.4 1761.5,1092.4 1762.5,1092.4 1763.5,1092.4 1764.5,1092.4 1765.5,1092.4 1766.5,1092.4 1767.5,1092.4 1768.5,1092.4 1769.5,1092.4 1770.5,1092.3" stroke="#ff0000"/>
<path d="M988.5,863.0 989.5,864.4 990.5,865.7 991.5,867.0 992.5,868.3 993.5,869.5 994.5,870.7 995.5,871.8 996.5,872.8 997.5,873.9 998.5,874.9 999.5,875.8 1000.5,876.7 1001.5,877.5 1002.5,878.3 1003.5,879.1 1004.5,879.8 1005.5,880.5 1006.5,881.2 1007.5,881.8 1008.5,882.3 1009.5,882.9 1010.5,883.4 1011.5,883.8 1012.5,884.2 1013.5,884.6 1014.5,884.9 1015.5,885.2 1016.5,885.5 1017.5,885.7 1018.5,885.9 1019.5,886.1 1020.5,886.2 1021.5,886.3 1022.5,886.4 1023.5,886.4 1024.5,886.4 1025.5,886.4 1026.5,886.3 1027.5,886.2 1028.5,886.1 1029.5,885.9 1030.5,885.7 1031.5,885.5 1032.5,885.3 1033.5,885.0 1034.5,884.7 1035.5,884.4 1036.5,884.1 1037.5,883.8 1038.5,883.4 1039.5,883.0 1040.5,882.6 1041.5,882.1 1042.5,881.7 1043.5,881.2 1044.5,880.7 1045.5,880.2 1046.5,879.7 1047.5,879.2 1048.5,878.7 1049.5,878.1 1050.5,877.5 1051.5,877.0 1052.5,876.4 1053.5,875.8 1054.5,875.2 1055.5,874.6 1056.5,874.0 1057.5,873.4 1058.5,872.7 1059.5,872.1 1060.5,871.5 1061.5,870.8 1062.5,870.2 1063.5,869.5 1064.5,868.9 1065.5,868.2 1066.5,867.6 1067.5,866.9 1068.5,866.2 1069.5,865.5 1070.5,864.8 1071.5,864.1 1072.5,863.4 1073.5,862.7 1074.5,861.9 1075.5,861.2 1076.5,860.4 1077.5,859.7 1078.5,858.9 1079.5,858.1 1080.5,857.3 1081.5,856.5 1082.5,855.7 1083.5,854.8 1084.5,854.0 1085.5,853.2 1086.5,852.3 1087.5,851.4 1088.5,850.6 1089.5,849.7 1090.5,848.8 1091.5,847.9 1092.5,847.0 1093.5,846.1 1094.5,845.1 1095.5,844.2 1096.5,843.3 1097.5,842.3 1098.5,841.4 1099.5,840.4 1100.5,839.5 1101.5,838.5 1102.5,837.5 1103.5,836.5 1104.5,835.6 1105.5,834.6 1106.5,833.6 1107.5,832.6 1108.5,831.6 1109.5,830.6 1110.5,829.6 1111.5,828.5 1112.5,827.5 1113.5,826.5 1114.5,825.5 1115.5,824.5 1116.5,823.4 1117.5,822.4 1118.5,821.4 1119.5,820.3 1120.5,819.3 1121.5,818.3 1122.5,817.2 1123.5,816.2 1124.5,815.2 1125.5,814.1 1126.5,813.1 1127.5,812.1 1128.5,811.0 1129.5,810.0 1130.5,809.0 1131.5,808.0 1132.5,806.9 1133.5,805.9 1134.5,804.9 1135.5,803.9 1136.5,802.8 1137.5,801.8 1138.5,800.8 1139.5,799.8 1140.5,798.8 1141.5,797.8 1142.5,796.8 1143.5,795.8 1144.5,794.8 1145.5,793.8 1146.5,792.9 1147.5,791.9 1148.5,790.9 1149.5,790.0 1150.5,789.0 1151.5,788.1 1152.5,787.1 1153.5,786.2 1154.5,785.3 1155.5,784.4 1156.5,783.4 1157.5,782.5 1158.5,781.6 1159.5,780.8 1160.5,779.9 1161.5,779.0 1162.5,778.1 1163.5,777.3 1164.5,776.4 1165.5,775.6 1166.5,774.8 1167.5,774.0 1168.5,773.2 1169.5,772.4 1170.5,771.6 1171.5,770.8 1172.5,770.1 1173.5,769.3 1174.5,768.6 1175.5,767.9 1176.5,767.2 1177.5,766.5 1178.5,765.8 1179.5,765.1 1180.5,764.4 1181.5,763.8 1182.5,763.2 1183.5,762.5 1184.5,761.9 1185.5,761.3 1186.5,760.8 1187.5,760.2 1188.5,759.6 1189.5,759.1 1190.5,758.6 1191.5,758.1 1192.5,757.6 1193.5,757.1 1194.5,756.7 1195.5,756.2 1196.5,755.8 1197.5,755.4 1198.5,755.0 1199.5,754.6 1200.5,754.2 1201.5,753.9 1202.5,753.5 1203.5,753.2 1204.5,752.9 1205.5,752.6 1206.5,752.3 1207.5,752.1 1208.5,751.9 1209.5,751.6 1210.5,751.4 1211.5,751.3 1212.5,751.1 1213.5,751.0 1214.5,750.8 1215.5,750.7 1216.5,750.6 1217.5,750.6 1218.5,750.5 1219.5,750.5 1220.5,750.5 1221.5,750.5 1222.5,750.5 1223.5,750.6 1224.5,750.6 1225.5,750.7 1226.5,750.8 1227.5,750.9 1228.5,751.1 1229.5,751.2 1230.5,751.4 1231.5,751.6 1232.5,751.8 1233.5,752.0 1234.5,752.3 1235.5,752.5 1236.5,752.8 1237.5,753.1 1238.5,753.4 1239.5,753.7 1240.5,754.0 1241.5,754.3 1242.5,754.7 1243.5,755.0 1244.5,755.4 1245.5,755.8 1246.5,756.2 1247.5,756.6 1248.5,757.0 1249.5,757.5 1250.5,757.9 1251.5,758.4 1252.5,758.8 1253.5,759.3 1254.5,759.8 1255.5,760.3 1256.5,760.8 1257.5,761.3 1258.5,761.8 1259.5,762.3 1260.5,762.8 1261.5,763.4 1262.5,763.9 1263.5,764.4 1264.5,765.0 1265.5,765.6 1266.5,766.1 1267.5,766.7 1268.5,767.2 1269.5,767.8 1270.5,768.4 1271.5,769.0 1272.5,769.6 1273.5,770.1 1274.5,770.7 1275.5,771.3 1276.5,771.9 1277.5,772.5 1278.5,773.1 1279.5,773.7 1280.5,774.3 1281.5,774.9 1282.5,775.4 1283.5,776.0 1284.5,776.6 1285.5,777.2 1286.5,777.8 1287.5,778.3 1288.5,778.9 1289.5,779.5 1290.5,780.0 1291.5,780.6 1292.5,781.2 1293.5,781.7 1294.5,782.3 1295.5,782.8 1296.5,783.3 1297.5,783.8 1298.5,784.4 1299.5,784.9 1300.5,785.4 1301.5,785.9 1302.5,786.3 1303.5,786.8 1304.5,787.3 1305.5,787.7 1306.5,788.2 1307.5,788.7 1308.5,789.1 1309.5,789.6 1310.5,790.0 1311.5,790.5 1312.5,790.9 1313.5,791.3 1314.5,791.8 1315.5,792.2 1316.5,792.7 1317.5,793.2 1318.5,793.6 1319.5,794.1 1320.5,794.6 1321.5,795.0 1322.5,795.5 1323.5,796.0 1324.5,796.6 1325.5,797.1 1326.5,797.6 1327.5,798.2 1328.5,798.7 1329.5,799.3 1330.5,799.9 1331.5,800.5 1332.5,801.1 1333.5,801.7 1334.5,802.4 1335.5,803.1 1336.5,803.8 1337.5,804.5 1338.5,805.2 1339.5,806.0 1340.5,806.7 1341.5,807.5 1342.5,808.3 1343.5,809.1 1344.5,810.0 1345.5,810.9 1346.5,811.8 1347.5,812.7 1348.5,813.6 1349.5,814.5 1350.5,815.5 1351.5,816.5 1352.5,817.5 1353.5,818.6 1354.5,819.7 1355.5,820.7 1356.5,821.9 1357.5,823.0 1358.5,824.2 1359.5,825.4 1360.5,826.6 1361.5,827.8 1362.5,829.1 1363.5,830.4 1364.5,831.7 1365.5,833.0 1366.5,834.4 1367.5,835.7 1368.5,837.1 1369.5,838.6 1370.5,840.0 1371.5,841.5 1372.5,842.9 1373.5,844.4 1374.5,846.0 1375.5,847.5 1376.5,849.0 1377.5,850.6 1378.5,852.2 1379.5,853.8 1380.5,855.4 1381.5,857.0 1382.5,858.6 1383.5,860.3 1384.5,861.9 1385.5,863.6 1386.5,865.3 1387.5,867.0 1388.5,868.7 1389.5,870.4 1390.5,872.1 1391.5,873.8 1392.5,875.5 1393.5,877.3 1394.5,879.0 1395.5,880.7 1396.5,882.5 1397.5,884.2 1398.5,886.0 1399.5,887.7 1400.5,889.5 1401.5,891.2 1402.5,893.0 1403.5,894.7 1404.5,896.5 1405.5,898.2 1406.5,900.0 1407.5,901.7 1408.5,903.5 1409.5,905.2 1410.5,906.9 1411.5,908.7 1412.5,910.4 1413.5,912.1 1414.5,913.8 1415.5,915.5 1416.5,917.2 1417.5,918.9 1418.5,920.6 1419.5,922.2 1420.5,923.9 1421.5,925.5 1422.5,927.2 1423.5,928.8 1424.5,930.4 1425.5,932.0 1426.5,933.6 1427.5,935.2 1428.5,936.7 1429.5,938.3 1430.5,939.8 1431.5,941.3 1432.5,942.8 1433.5,944.3 1434.5,945.8 1435.5,947.2 1436.5,948.7 1437.5,950.1 1438.5,951.5 1439.5,952.8 1440.5,954.2 1441.5,955.5 1442.5,956.8 1443.5,958.1 1444.5,959.4 1445.5,960.6 1446.5,961.9 1447.5,963.1 1448.5,964.2 1449.5,965.4 1450.5,966.6 1451.5,967.7 1452.5,968.8 1453.5,969.9 1454.5,971.0 1455.5,972.0 1456.5,973.1 1457.5,974.1 1458.5,975.1 1459.5,976.1 1460.5,977.1 1461.5,978.1 1462.5,979.0 1463.5,980.0 1464.5,980.9 1465.5,981.8 1466.5,982.7 1467.5,983.6 1468.5,984.5 1469.5,985.3 1470.5,986.2 1471.5,987.1 1472.5,987.9 1473.5,988.7 1474.5,989.6 1475.5,990.4 1476.5,991.2 1477.5,992.0 1478.5,992.8 1479.5,993.6 1480.5,994.3 1481.5,995.1 1482.5,995.9 1483.5,996.6 1484.5,997.4 1485.5,998.2 1486.5,998.9 1487.5,999.6 1488.5,1000.4 1489.5,1001.1 1490.5,1001.8 1491.5,1002.5 1492.5,1003.3 1493.5,1004.0 1494.5,1004.7 1495.5,1005.4 1496.5,1006.0 1497.5,1006.7 1498.5,1007.4 1499.5,1008.1 1500.5,1008.8 1501.5,1009.4 1502.5,1010.1 1503.5,1010.7 1504.5,1011.4 1505.5,1012.0 1506.5,1012.7 1507.5,1013.3 1508.5,1013.9 1509.5,1014.6 1510.5,1015.2 1511.5,1015.8 1512.5,1016.4 1513.5,1017.0 1514.5,1017.6 1515.5,1018.2 1516.5,1018.8 1517.5,1019.4 1518.5,1020.0 1519.5,1020.5 1520.5,1021.1 1521.5,1021.7 1522.5,1022.3 1523.5,1022.8 1524.5,1023.4 1525.5,1023.9 1526.5,1024.5 1527.5,1025.0 1528.5,1025.6 1529.5,1026.1 1530.5,1026.6 1531.5,1027.2 1532.5,1027.7 1533.5,1028.2 1534.5,1028.7 1535.5,1029.2 1536.5,1029.8 1537.5,1030.3 1538.5,1030.8 1539.5,1031.3 1540.5,1031.8 1541.5,1032.3 1542.5,1032.7 1543.5,1033.2 1544.5,1033.7 1545.5,1034.2 1546.5,1034.7 1547.5,1035.1 1548.5,1035.6 1549.5,1036.1 1550.5,1036.5 1551.5,1037.0 1552.5,1037.4 1553.5,1037.9 1554.5,1038.3 1555.5,1038.8 1556.5,1039.2 1557.5,1039.7 1558.5,1040.1 1559.5,1040.5 1560.5,1041.0 1561.5,1041.4 1562.5,1041.8 1563.5,1042.3 1564.5,1042.7 1565.5,1043.1 1566.5,1043.5 1567.5,1043.9 1568.5,1044.3 1569.5,1044.7 1570.5,1045.1 1571.5,1045.6 1572.5,1046.0 1573.5,1046.4 1574.5,1046.7 1575.5,1047.1 1576.5,1047.5 1577.5,1047.9 1578.5,1048.3 1579.5,1048.7 1580.5,1049.1 1581.5,1049.5 1582.5,1049.8 1583.5,1050.2 1584.5,1050.6 1585.5,1051.0 1586.5,1051.3 1587.5,1051.7 1588.5,1052.1 1589.5,1052.5 1590.5,1052.8 1591.5,1053.2 1592.5,1053.5 1593.5,1053.9 1594.5,1054.3 1595.5,1054.6 1596.5,1055.0 1597.5,1055.3 1598.5,1055.7 1599.5,1056.0 1600.5,1056.4 1601.5,1056.7 1602.5,1057.1 1603.5,1057.4 1604.5,1057.8 1605.5,1058.1 1606.5,1058.4 1607.5,1058.8 1608.5,1059.1 1609.5,1059.4 1610.5,1059.8 1611.5,1060.1 1612.5,1060.4 1613.5,1060.8 1614.5,1061.1 1615.5,1061.4 1616.5,1061.7 1617.5,1062.0 1618.5,1062.4 1619.5,1062.7 1620.5,1063.0 1621.5,1063.3 1622.5,1063.6 1623.5,1063.9 1624.5,1064.2 1625.5,1064.5 1626.5,1064.8 1627.5,1065.1 1628.5,1065.4 1629.5,1065.7 1630.5,1066.0 1631.5,1066.3 1632.5,1066.6 1633.5,1066.9 1634.5,1067.2 1635.5,1067.5 1636.5,1067.8 1637.5,1068.0 1638.5,1068.3 1639.5,1068.6 1640.5,1068.9 1641.5,1069.2 1642.5,1069.4 1643.5,1069.7 1644.5,1070.0 1645.5,1070.2 1646.5,1070.5 1647.5,1070.8 1648.5,1071.0 1649.5,1071.3 1650.5,1071.6 1651.5,1071.8 1652.5,1072.1 1653.5,1072.3 1654.5,1072.6 1655.5,1072.8 1656.5,1073.1 1657.5,1073.3 1658.5,1073.6 1659.5,1073.8 1660.5,1074.1 1661.5,1074.3 1662.5,1074.6 1663.5,1074.8 1664.5,1075.0 1665.5,1075.3 1666.5,1075.5 1667.5,1075.7 1668.5,1076.0 1669.5,1076.2 1670.5,1076.4 1671.5,1076.6 1672.5,1076.9 1673.5,1077.1 1674.5,1077.3 1675.5,1077.5 1676.5,1077.7 1677.5,1077.9 1678.5,1078.2 1679.5,1078.4 1680.5,1078.6 1681.5,1078.8 1682.5,1079.0 1683.5,1079.2 1684.5,1079.4 1685.5,1079.6 1686.5,1079.8 1687.5,1080.0 1688.5,1080.2 1689.5,1080.4 1690.5,1080.6 1691.5,1080.7 1692.5,1080.9 1693.5,1081.1 1694.5,1081.3 1695.5,1081.5 1696.5,1081.7 1697.5,1081.8 1698.5,1082.0 1699.5,1082.2 1700.5,1082.4 1701.5,1082.5 1702.5,1082.7 1703.5,1082.9 1704.5,1083.0 1705.5,1083.2 1706.5,1083.4 1707.5,1083.5 1708.5,1083.7 1709.5,1083.8 1710.5,1084.0 1711.5,1084.1 1712.5,1084.3 1713.5,1084.4 1714.5,1084.6 1715.5,1084.7 1716.5,1084.9 1717.5,1085.0 1718.5,1085.2 1719.5,1085.3 1720.5,1085.4 1721.5,1085.6 1722.5,1085.7 1723.5,1085.8 1724.5,1086.0 1725.5,1086.1 1726.5,1086.2 1727.5,1086.4 1728.5,1086.5 1729.5,1086.6 1730.5,1086.7 1731.5,1086.8 1732.5,1087.0 1733.5,1087.1 1734.5,1087.2 1735.5,1087.3 1736.5,1087.4 1737.5,1087.5 1738.5,1087.6 1739.5,1087.7 1740.5,1087.8 1741.5,1087.9 1742.5,1088.0 1743.5,1088.1 1744.5,1088.2 1745.5,1088.3 1746.5,1088.4 1747.5,1088.5 1748.5,1088.6 1749.5,1088.7 1750.5,1088.7 1751.5,1088.8 1752.5,1088.9 1753.5,1089.0 1754.5,1089.1 1755.5,1089.1 1756.5,1089.2 1757.5,1089.3 1758.5,1089.4 1759.5,1089.4 1760.5,1089.5 1761.5,1089.6 1762.5,1089.6 1763.5,1089.7 1764.5,1089.7 1765.5,1089.8 1766.5,1089.9 1767.5,1089.9 1768.5,1090.0 1769.5,1090.0 1770.5,1090.1" stroke="#00ff00"/>
<path d="M988.5,843.6 989.5,845.0 990.5,846.3 991.5,847.6 992.5,848.9 993.5,850.0 994.5,851.2 995.5,852.3 996.5,853.3 997.5,854.3 998.5,855.3 999.5,856.2 1000.5,857.1 1001.5,857.9 1002.5,858.7 1003.5,859.5 1004.5,860.2 1005.5,860.8 1006.5,861.4 1007.5,862.0 1008.5,862.6 1009.5,863.1 1010.5,863.6 1011.5,864.0 1012.5,864.4 1013.5,864.7 1014.5,865.1 1015.5,865.3 1016.5,865.6 1017.5,865.8 1018.5,866.0 1019.5,866.1 1020.5,866.2 1021.5,866.3 1022.5,866.4 1023.5,866.4 1024.5,866.4 1025.5,866.3 1026.5,866.2 1027.5,866.1 1028.5,866.0 1029.5,865.8 1030.5,865.6 1031.5,865.4 1032.5,865.2 1033.5,864.9 1034.5,864.6 1035.5,864.3 1036.5,863.9 1037.5,863.5 1038.5,863.1 1039.5,862.7 1040.5,862.2 1041.5,861.7 1042.5,861.2 1043.5,860.7 1044.5,860.2 1045.5,859.6 1046.5,859.0 1047.5,858.4 1048.5,857.8 1049.5,857.1 1050.5,856.5 1051.5,855.8 1052.5,855.1 1053.5,854.4 1054.5,853.6 1055.5,852.9 1056.5,852.1 1057.5,851.3 1058.5,850.5 1059.5,849.7 1060.5,848.9 1061.5,848.0 1062.5,847.2 1063.5,846.3 1064.5,845.4 1065.5,844.5 1066.5,843.6 1067.5,842.7 1068.5,841.8 1069.5,840.8 1070.5,839.9 1071.5,838.9 1072.5,838.0 1073.5,837.0 1074.5,836.0 1075.5,835.0 1076.5,834.0 1077.5,833.0 1078.5,832.0 1079.5,831.0 1080.5,829.9 1081.5,828.9 1082.5,827.8 1083.5,826.8 1084.5,825.7 1085.5,824.7 1086.5,823.6 1087.5,822.5 1088.5,821.4 1089.5,820.3 1090.5,819.2 1091.5,818.1 1092.5,817.0 1093.5,815.9 1094.5,814.8 1095.5,813.7 1096.5,812.6 1097.5,811.4 1098.5,810.3 1099.5,809.2 1100.5,808.0 1101.5,806.9 1102.5,805.7 1103.5,804.6 1104.5,803.4 1105.5,802.3 1106.5,801.1 1107.5,800.0 1108.5,798.8 1109.5,797.7 1110.5,796.5 1111.5,795.3 1112.5,794.2 1113.5,793.0 1114.5,791.8 1115.5,790.7 1116.5,789.5 1117.5,788.4 1118.5,787.2 1119.5,786.0 1120.5,784.9 1121.5,783.7 1122.5,782.6 1123.5,781.4 1124.5,780.3 1125.5,779.1 1126.5,778.0 1127.5,776.8 1128.5,775.7 1129.5,774.5 1130.5,773.4 1131.5,772.2 1132.5,771.1 1133.5,770.0 1134.5,768.9 1135.5,767.7 1136.5,766.6 1137.5,765.5 1138.5,764.4 1139.5,763.3 1140.5,762.2 1141.5,761.1 1142.5,760.0 1143.5,758.9 1144.5,757.8 1145.5,756.7 1146.5,755.6 1147.5,754.5 1148.5,753.5 1149.5,752.4 1150.5,751.3 1151.5,750.3 1152.5,749.2 1153.5,748.2 1154.5,747.2 1155.5,746.1 1156.5,745.1 1157.5,744.1 1158.5,743.1 1159.5,742.1 1160.5,741.1 1161.5,740.1 1162.5,739.1 1163.5,738.1 1164.5,737.1 1165.5,736.2 1166.5,735.2 1167.5,734.3 1168.5,733.3 1169.5,732.4 1170.5,731.5 1171.5,730.6 1172.5,729.7 1173.5,728.8 1174.5,727.9 1175.5,727.1 1176.5,726.2 1177.5,725.4 1178.5,724.6 1179.5,723.7 1180.5,722.9 1181.5,722.2 1182.5,721.4 1183.5,720.6 1184.5,719.9 1185.5,719.2 1186.5,718.5 1187.5,717.8 1188.5,717.1 1189.5,716.4 1190.5,715.8 1191.5,715.2 1192.5,714.5 1193.5,714.0 1194.5,713.4 1195.5,712.8 1196.5,712.3 1197.5,711.8 1198.5,711.3 1199.5,710.8 1200.5,710.4 1201.5,709.9 1202.5,709.5 1203.5,709.1 1204.5,708.8 1205.5,708.4 1206.5,708.1 1207.5,707.8 1208.5,707.5 1209.5,707.3 1210.5,707.0 1211.5,706.8 1212.5,706.6 1213.5,706.5 1214.5,706.3 1215.5,706.2 1216.5,706.1 1217.5,706.0 1218.5,705.9 1219.5,705.9 1220.5,705.9 1221.5,705.9 1222.5,705.9 1223.5,706.0 1224.5,706.1 1225.5,706.2 1226.5,706.3 1227.5,706.4 1228.5,706.6 1229.5,706.8 1230.5,706.9 1231.5,707.2 1232.5,707.4 1233.5,707.6 1234.5,707.9 1235.5,708.2 1236.5,708.5 1237.5,708.8 1238.5,709.2 1239.5,709.5 1240.5,709.9 1241.5,710.3 1242.5,710.7 1243.5,711.1 1244.5,711.5 1245.5,711.9 1246.5,712.4 1247.5,712.8 1248.5,713.3 1249.5,713.8 1250.5,714.3 1251.5,714.8 1252.5,715.3 1253.5,715.8 1254.5,716.3 1255.5,716.9 1256.5,717.4 1257.5,718.0 1258.5,718.6 1259.5,719.1 1260.5,719.7 1261.5,720.3 1262.5,720.9 1263.5,721.5 1264.5,722.1 1265.5,722.7 1266.5,723.3 1267.5,723.9 1268.5,724.6 1269.5,725.2 1270.5,725.8 1271.5,726.4 1272.5,727.1 1273.5,727.7 1274.5,728.3 1275.5,729.0 1276.5,729.6 1277.5,730.3 1278.5,730.9 1279.5,731.5 1280.5,732.2 1281.5,732.8 1282.5,733.5 1283.5,734.1 1284.5,734.7 1285.5,735.4 1286.5,736.0 1287.5,736.7 1288.5,737.3 1289.5,737.9 1290.5,738.5 1291.5,739.2 1292.5,739.8 1293.5,740.4 1294.5,741.0 1295.5,741.6 1296.5,742.2 1297.5,742.8 1298.5,743.4 1299.5,744.0 1300.5,744.5 1301.5,745.1 1302.5,745.7 1303.5,746.2 1304.5,746.8 1305.5,747.3 1306.5,747.9 1307.5,748.4 1308.5,748.9 1309.5,749.5 1310.5,750.0 1311.5,750.5 1312.5,751.1 1313.5,751.6 1314.5,752.2 1315.5,752.7 1316.5,753.2 1317.5,753.8 1318.5,754.4 1319.5,754.9 1320.5,755.5 1321.5,756.1 1322.5,756.6 1323.5,757.2 1324.5,757.8 1325.5,758.4 1326.5,759.1 1327.5,759.7 1328.5,760.3 1329.5,761.0 1330.5,761.7 1331.5,762.3 1332.5,763.1 1333.5,763.8 1334.5,764.5 1335.5,765.3 1336.5,766.0 1337.5,766.8 1338.5,767.6 1339.5,768.4 1340.5,769.3 1341.5,770.2 1342.5,771.1 1343.5,772.0 1344.5,772.9 1345.5,773.9 1346.5,774.8 1347.5,775.8 1348.5,776.9 1349.5,777.9 1350.5,779.0 1351.5,780.1 1352.5,781.2 1353.5,782.4 1354.5,783.5 1355.5,784.7 1356.5,785.9 1357.5,787.2 1358.5,788.5 1359.5,789.8 1360.5,791.1 1361.5,792.4 1362.5,793.8 1363.5,795.2 1364.5,796.6 1365.5,798.1 1366.5,799.6 1367.5,801.1 1368.5,802.6 1369.5,804.2 1370.5,805.7 1371.5,807.3 1372.5,808.9 1373.5,810.6 1374.5,812.2 1375.5,813.9 1376.5,815.6 1377.5,817.3 1378.5,819.0 1379.5,820.8 1380.5,822.6 1381.5,824.3 1382.5,826.1 1383.5,827.9 1384.5,829.7 1385.5,831.6 1386.5,833.4 1387.5,835.3 1388.5,837.1 1389.5,839.0 1390.5,840.9 1391.5,842.8 1392.5,844.7 1393.5,846.6 1394.5,848.5 1395.5,850.5 1396.5,852.4 1397.5,854.3 1398.5,856.3 1399.5,858.2 1400.5,860.1 1401.5,862.1 1402.5,864.0 1403.5,866.0 1404.5,867.9 1405.5,869.9 1406.5,871.8 1407.5,873.8 1408.5,875.7 1409.5,877.6 1410.5,879.6 1411.5,881.5 1412.5,883.4 1413.5,885.3 1414.5,887.2 1415.5,889.1 1416.5,891.0 1417.5,892.9 1418.5,894.8 1419.5,896.7 1420.5,898.5 1421.5,900.4 1422.5,902.2 1423.5,904.0 1424.5,905.8 1425.5,907.6 1426.5,909.3 1427.5,911.1 1428.5,912.8 1429.5,914.6 1430.5,916.3 1431.5,917.9 1432.5,919.6 1433.5,921.3 1434.5,922.9 1435.5,924.5 1436.5,926.1 1437.5,927.7 1438.5,929.3 1439.5,930.8 1440.5,932.3 1441.5,933.9 1442.5,935.3 1443.5,936.8 1444.5,938.3 1445.5,939.7 1446.5,941.1 1447.5,942.5 1448.5,943.9 1449.5,945.3 1450.5,946.6 1451.5,947.9 1452.5,949.2 1453.5,950.5 1454.5,951.8 1455.5,953.0 1456.5,954.3 1457.5,955.5 1458.5,956.7 1459.5,957.9 1460.5,959.1 1461.5,960.2 1462.5,961.4 1463.5,962.5 1464.5,963.6 1465.5,964.7 1466.5,965.8 1467.5,966.8 1468.5,967.9 1469.5,968.9 1470.5,970.0 1471.5,971.0 1472.5,972.0 1473.5,973.0 1474.5,973.9 1475.5,974.9 1476.5,975.9 1477.5,976.8 1478.5,977.7 1479.5,978.7 1480.5,979.6 1481.5,980.5 1482.5,981.4 1483.5,982.3 1484.5,983.1 1485.5,984.0 1486.5,984.9 1487.5,985.7 1488.5,986.6 1489.5,987.4 1490.5,988.2 1491.5,989.0 1492.5,989.8 1493.5,990.6 1494.5,991.4 1495.5,992.2 1496.5,993.0 1497.5,993.8 1498.5,994.6 1499.5,995.3 1500.5,996.1 1501.5,996.8 1502.5,997.6 1503.5,998.3 1504.5,999.1 1505.5,999.8 1506.5,1000.5 1507.5,1001.2 1508.5,1001.9 1509.5,1002.7 1510.5,1003.4 1511.5,1004.0 1512.5,1004.7 1513.5,1005.4 1514.5,1006.1 1515.5,1006.8 1516.5,1007.4 1517.5,1008.1 1518.5,1008.8 1519.5,1009.4 1520.5,1010.1 1521.5,1010.7 1522.5,1011.3 1523.5,1012.0 1524.5,1012.6 1525.5,1013.2 1526.5,1013.8 1527.5,1014.4 1528.5,1015.1 1529.5,1015.7 1530.5,1016.3 1531.5,1016.9 1532.5,1017.5 1533.5,1018.0 1534.5,1018.6 1535.5,1019.2 1536.5,1019.8 1537.5,1020.4 1538.5,1020.9 1539.5,1021.5 1540.5,1022.1 1541.5,1022.6 1542.5,1023.2 1543.5,1023.7 1544.5,1024.3 1545.5,1024.8 1546.5,1025.4 1547.5,1025.9 1548.5,1026.4 1549.5,1027.0 1550.5,1027.5 1551.5,1028.0 1552.5,1028.5 1553.5,1029.1 1554.5,1029.6 1555.5,1030.1 1556.5,1030.6 1557.5,1031.1 1558.5,1031.6 1559.5,1032.1 1560.5,1032.6 1561.5,1033.1 1562.5,1033.6 1563.5,1034.1 1564.5,1034.6 1565.5,1035.1 1566.5,1035.6 1567.5,1036.1 1568.5,1036.5 1569.5,1037.0 1570.5,1037.5 1571.5,1038.0 1572.5,1038.4 1573.5,1038.9 1574.5,1039.4 1575.5,1039.8 1576.5,1040.3 1577.5,1040.7 1578.5,1041.2 1579.5,1041.6 1580.5,1042.1 1581.5,1042.5 1582.5,1043.0 1583.5,1043.4 1584.5,1043.9 1585.5,1044.3 1586.5,1044.7 1587.5,1045.2 1588.5,1045.6 1589.5,1046.0 1590.5,1046.4 1591.5,1046.9 1592.5,1047.3 1593.5,1047.7 1594.5,1048.1 1595.5,1048.5 1596.5,1048.9 1597.5,1049.3 1598.5,1049.7 1599.5,1050.1 1600.5,1050.5 1601.5,1050.9 1602.5,1051.3 1603.5,1051.7 1604.5,1052.1 1605.5,1052.5 1606.5,1052.9 1607.5,1053.3 1608.5,1053.6 1609.5,1054.0 1610.5,1054.4 1611.5,1054.8 1612.5,1055.1 1613.5,1055.5 1614.5,1055.9 1615.5,1056.2 1616.5,1056.6 1617.5,1057.0 1618.5,1057.3 1619.5,1057.7 1620.5,1058.0 1621.5,1058.4 1622.5,1058.7 1623.5,1059.1 1624.5,1059.4 1625.5,1059.7 1626.5,1060.1 1627.5,1060.4 1628.5,1060.8 1629.5,1061.1 1630.5,1061.4 1631.5,1061.7 1632.5,1062.1 1633.5,1062.4 1634.5,1062.7 1635.5,1063.0 1636.5,1063.3 1637.5,1063.7 1638.5,1064.0 1639.5,1064.3 1640.5,1064.6 1641.5,1064.9 1642.5,1065.2 1643.5,1065.5 1644.5,1065.8 1645.5,1066.1 1646.5,1066.4 1647.5,1066.7 1648.5,1067.0 1649.5,1067.3 1650.5,1067.5 1651.5,1067.8 1652.5,1068.1 1653.5,1068.4 1654.5,1068.7 1655.5,1068.9 1656.5,1069.2 1657.5,1069.5 1658.5,1069.8 1659.5,1070.0 1660.5,1070.3 1661.5,1070.5 1662.5,1070.8 1663.5,1071.1 1664.5,1071.3 1665.5,1071.6 1666.5,1071.8 1667.5,1072.1 1668.5,1072.3 1669.5,1072.6 1670.5,1072.8 1671.5,1073.1 1672.5,1073.3 1673.5,1073.5 1674.5,1073.8 1675.5,1074.0 1676.5,1074.2 1677.5,1074.5 1678.5,1074.7 1679.5,1074.9 1680.5,1075.1 1681.5,1075.4 1682.5,1075.6 1683.5,1075.8 1684.5,1076.0 1685.5,1076.2 1686.5,1076.5 1687.5,1076.7 1688.5,1076.9 1689.5,1077.1 1690.5,1077.3 1691.5,1077.5 1692.5,1077.7 1693.5,1077.9 1694.5,1078.1 1695.5,1078.3 1696.5,1078.5 1697.5,1078.7 1698.5,1078.9 1699.5,1079.0 1700.5,1079.2 1701.5,1079.4 1702.5,1079.6 1703.5,1079.8 1704.5,1079.9 1705.5,1080.1 1706.5,1080.3 1707.5,1080.5 1708.5,1080.6 1709.5,1080.8 1710.5,1081.0 1711.5,1081.1 1712.5,1081.3 1713.5,1081.5 1714.5,1081.6 1715.5,1081.8 1716.5,1081.9 1717.5,1082.1 1718.5,1082.3 1719.5,1082.4 1720.5,1082.6 1721.5,1082.7 1722.5,1082.8 1723.5,1083.0 1724.5,1083.1 1725.5,1083.3 1726.5,1083.4 1727.5,1083.5 1728.5,1083.7 1729.5,1083.8 1730.5,1083.9 1731.5,1084.1 1732.5,1084.2 1733.5,1084.3 1734.5,1084.5 1735.5,1084.6 1736.5,1084.7 1737.5,1084.8 1738.5,1084.9 1739.5,1085.1 1740.5,1085.2 1741.5,1085.3 1742.5,1085.4 1743.5,1085.5 1744.5,1085.6 1745.5,1085.7 1746.5,1085.8 1747.5,1085.9 1748.5,1086.0 1749.5,1086.1 1750.5,1086.2 1751.5,1086.3 1752.5,1086.4 1753.5,1086.5 1754.5,1086.6 1755.5,1086.7 1756.5,1086.8 1757.5,1086.9 1758.5,1087.0 1759.5,1087.0 1760.5,1087.1 1761.5,1087.2 1762.5,1087.3 1763.5,1087.4 1764.5,1087.4 1765.5,1087.5 1766.5,1087.6 1767.5,1087.7 1768.5,1087.7 1769.5,1087.8 1770.5,1087.9" stroke="#0000ff"/>
<path d="M988.5,820.6 989.5,822.0 990.5,823.3 991.5,824.6 992.5,825.9 993.5,827.1 994.5,828.3 995.5,829.4 996.5,830.5 997.5,831.5 998.5,832.4 999.5,833.4 1000.5,834.2 1001.5,835.1 1002.5,835.9 1003.5,836.6 1004.5,837.3 1005.5,837.9 1006.5,838.5 1007.5,839.1 1008.5,839.6 1009.5,840.1 1010.5,840.5 1011.5,840.9 1012.5,841.3 1013.5,841.6 1014.5,841.9 1015.5,842.1 1016.5,842.3 1017.5,842.5 1018.5,842.6 1019.5,842.7 1020.5,842.8 1021.5,842.8 1022.5,842.8 1023.5,842.8 1024.5,842.7 1025.5,842.6 1026.5,842.4 1027.5,842.2 1028.5,842.0 1029.5,841.8 1030.5,841.5 1031.5,841.2 1032.5,840.9 1033.5,840.5 1034.5,840.2 1035.5,839.7 1036.5,839.3 1037.5,838.8 1038.5,838.3 1039.5,837.8 1040.5,837.3 1041.5,836.7 1042.5,836.1 1043.5,835.5 1044.5,834.9 1045.5,834.2 1046.5,833.5 1047.5,832.8 1048.5,832.1 1049.5,831.4 1050.5,830.6 1051.5,829.8 1052.5,829.0 1053.5,828.2 1054.5,827.4 1055.5,826.5 1056.5,825.7 1057.5,824.8 1058.5,823.9 1059.5,823.0 1060.5,822.0 1061.5,821.1 1062.5,820.1 1063.5,819.2 1064.5,818.2 1065.5,817.2 1066.5,816.2 1067.5,815.2 1068.5,814.2 1069.5,813.1 1070.5,812.1 1071.5,811.1 1072.5,810.0 1073.5,808.9 1074.5,807.9 1075.5,806.8 1076.5,805.7 1077.5,804.6 1078.5,803.5 1079.5,802.3 1080.5,801.2 1081.5,800.1 1082.5,798.9 1083.5,797.8 1084.5,796.6 1085.5,795.5 1086.5,794.3 1087.5,793.1 1088.5,791.9 1089.5,790.7 1090.5,789.5 1091.5,788.3 1092.5,787.1 1093.5,785.9 1094.5,784.7 1095.5,783.5 1096.5,782.2 1097.5,781.0 1098.5,779.7 1099.5,778.5 1100.5,777.2 1101.5,775.9 1102.5,774.7 1103.5,773.4 1104.5,772.1 1105.5,770.8 1106.5,769.6 1107.5,768.3 1108.5,767.0 1109.5,765.7 1110.5,764.3 1111.5,763.0 1112.5,761.7 1113.5,760.4 1114.5,759.1 1115.5,757.8 1116.5,756.4 1117.5,755.1 1118.5,753.8 1119.5,752.4 1120.5,751.1 1121.5,749.7 1122.5,748.4 1123.5,747.1 1124.5,745.7 1125.5,744.4 1126.5,743.0 1127.5,741.6 1128.5,740.3 1129.5,738.9 1130.5,737.6 1131.5,736.2 1132.5,734.9 1133.5,733.6 1134.5,732.2 1135.5,730.9 1136.5,729.5 1137.5,728.2 1138.5,726.9 1139.5,725.5 1140.5,724.2 1141.5,722.9 1142.5,721.6 1143.5,720.3 1144.5,719.0 1145.5,717.7 1146.5,716.5 1147.5,715.2 1148.5,713.9 1149.5,712.7 1150.5,711.4 1151.5,710.2 1152.5,709.0 1153.5,707.7 1154.5,706.5 1155.5,705.3 1156.5,704.2 1157.5,703.0 1158.5,701.8 1159.5,700.7 1160.5,699.6 1161.5,698.5 1162.5,697.4 1163.5,696.3 1164.5,695.2 1165.5,694.2 1166.5,693.1 1167.5,692.1 1168.5,691.1 1169.5,690.1 1170.5,689.1 1171.5,688.1 1172.5,687.2 1173.5,686.3 1174.5,685.4 1175.5,684.5 1176.5,683.6 1177.5,682.7 1178.5,681.9 1179.5,681.0 1180.5,680.2 1181.5,679.4 1182.5,678.7 1183.5,677.9 1184.5,677.2 1185.5,676.4 1186.5,675.7 1187.5,675.0 1188.5,674.4 1189.5,673.7 1190.5,673.1 1191.5,672.5 1192.5,671.9 1193.5,671.3 1194.5,670.7 1195.5,670.2 1196.5,669.7 1197.5,669.2 1198.5,668.7 1199.5,668.3 1200.5,667.8 1201.5,667.4 1202.5,667.0 1203.5,666.6 1204.5,666.3 1205.5,665.9 1206.5,665.6 1207.5,665.3 1208.5,665.0 1209.5,664.8 1210.5,664.6 1211.5,664.3 1212.5,664.2 1213.5,664.0 1214.5,663.8 1215.5,663.7 1216.5,663.6 1217.5,663.5 1218.5,663.5 1219.5,663.4 1220.5,663.4 1221.5,663.4 1222.5,663.4 1223.5,663.4 1224.5,663.5 1225.5,663.6 1226.5,663.7 1227.5,663.8 1228.5,663.9 1229.5,664.1 1230.5,664.2 1231.5,664.4 1232.5,664.6 1233.5,664.9 1234.5,665.1 1235.5,665.4 1236.5,665.7 1237.5,666.0 1238.5,666.3 1239.5,666.6 1240.5,667.0 1241.5,667.3 1242.5,667.7 1243.5,668.1 1244.5,668.5 1245.5,669.0 1246.5,669.4 1247.5,669.9 1248.5,670.4 1249.5,670.9 1250.5,671.4 1251.5,671.9 1252.5,672.5 1253.5,673.0 1254.5,673.6 1255.5,674.2 1256.5,674.8 1257.5,675.4 1258.5,676.1 1259.5,676.7 1260.5,677.4 1261.5,678.0 1262.5,678.7 1263.5,679.4 1264.5,680.1 1265.5,680.8 1266.5,681.5 1267.5,682.2 1268.5,682.9 1269.5,683.6 1270.5,684.3 1271.5,685.0 1272.5,685.8 1273.5,686.5 1274.5,687.2 1275.5,687.9 1276.5,688.7 1277.5,689.4 1278.5,690.1 1279.5,690.8 1280.5,691.6 1281.5,692.3 1282.5,693.0 1283.5,693.7 1284.5,694.4 1285.5,695.1 1286.5,695.8 1287.5,696.5 1288.5,697.1 1289.5,697.8 1290.5,698.4 1291.5,699.1 1292.5,699.7 1293.5,700.3 1294.5,700.9 1295.5,701.5 1296.5,702.1 1297.5,702.7 1298.5,703.3 1299.5,703.9 1300.5,704.4 1301.5,705.0 1302.5,705.6 1303.5,706.1 1304.5,706.7 1305.5,707.2 1306.5,707.8 1307.5,708.3 1308.5,708.9 1309.5,709.5 1310.5,710.0 1311.5,710.6 1312.5,711.1 1313.5,711.7 1314.5,712.3 1315.5,712.8 1316.5,713.4 1317.5,714.0 1318.5,714.6 1319.5,715.2 1320.5,715.8 1321.5,716.4 1322.5,717.1 1323.5,717.7 1324.5,718.4 1325.5,719.0 1326.5,719.7 1327.5,720.4 1328.5,721.1 1329.5,721.8 1330.5,722.5 1331.5,723.3 1332.5,724.0 1333.5,724.8 1334.5,725.6 1335.5,726.4 1336.5,727.2 1337.5,728.1 1338.5,729.0 1339.5,729.9 1340.5,730.8 1341.5,731.7 1342.5,732.7 1343.5,733.7 1344.5,734.7 1345.5,735.8 1346.5,736.9 1347.5,738.0 1348.5,739.1 1349.5,740.3 1350.5,741.5 1351.5,742.7 1352.5,743.9 1353.5,745.2 1354.5,746.6 1355.5,747.9 1356.5,749.3 1357.5,750.8 1358.5,752.3 1359.5,753.8 1360.5,755.3 1361.5,756.9 1362.5,758.5 1363.5,760.2 1364.5,761.8 1365.5,763.5 1366.5,765.3 1367.5,767.0 1368.5,768.8 1369.5,770.6 1370.5,772.4 1371.5,774.2 1372.5,776.0 1373.5,777.9 1374.5,779.8 1375.5,781.7 1376.5,783.6 1377.5,785.5 1378.5,787.4 1379.5,789.4 1380.5,791.3 1381.5,793.3 1382.5,795.3 1383.5,797.3 1384.5,799.3 1385.5,801.3 1386.5,803.3 1387.5,805.3 1388.5,807.4 1389.5,809.4 1390.5,811.5 1391.5,813.6 1392.5,815.6 1393.5,817.7 1394.5,819.8 1395.5,821.9 1396.5,824.0 1397.5,826.1 1398.5,828.2 1399.5,830.3 1400.5,832.4 1401.5,834.5 1402.5,836.6 1403.5,838.7 1404.5,840.8 1405.5,842.9 1406.5,845.0 1407.5,847.1 1408.5,849.2 1409.5,851.3 1410.5,853.4 1411.5,855.5 1412.5,857.6 1413.5,859.7 1414.5,861.8 1415.5,863.9 1416.5,865.9 1417.5,868.0 1418.5,870.0 1419.5,872.1 1420.5,874.1 1421.5,876.1 1422.5,878.2 1423.5,880.2 1424.5,882.2 1425.5,884.1 1426.5,886.1 1427.5,888.1 1428.5,890.0 1429.5,892.0 1430.5,893.9 1431.5,895.8 1432.5,897.7 1433.5,899.6 1434.5,901.4 1435.5,903.3 1436.5,905.1 1437.5,906.9 1438.5,908.7 1439.5,910.5 1440.5,912.2 1441.5,913.9 1442.5,915.7 1443.5,917.4 1444.5,919.0 1445.5,920.7 1446.5,922.3 1447.5,923.9 1448.5,925.5 1449.5,927.1 1450.5,928.6 1451.5,930.1 1452.5,931.6 1453.5,933.0 1454.5,934.5 1455.5,935.9 1456.5,937.3 1457.5,938.6 1458.5,940.0 1459.5,941.3 1460.5,942.6 1461.5,943.8 1462.5,945.1 1463.5,946.3 1464.5,947.5 1465.5,948.7 1466.5,949.9 1467.5,951.0 1468.5,952.2 1469.5,953.3 1470.5,954.4 1471.5,955.5 1472.5,956.5 1473.5,957.6 1474.5,958.6 1475.5,959.6 1476.5,960.6 1477.5,961.6 1478.5,962.6 1479.5,963.6 1480.5,964.5 1481.5,965.5 1482.5,966.4 1483.5,967.3 1484.5,968.3 1485.5,969.2 1486.5,970.1 1487.5,971.0 1488.5,971.8 1489.5,972.7 1490.5,973.6 1491.5,974.4 1492.5,975.3 1493.5,976.1 1494.5,977.0 1495.5,977.8 1496.5,978.7 1497.5,979.5 1498.5,980.3 1499.5,981.1 1500.5,982.0 1501.5,982.8 1502.5,983.6 1503.5,984.4 1504.5,985.2 1505.5,986.0 1506.5,986.7 1507.5,987.5 1508.5,988.3 1509.5,989.1 1510.5,989.8 1511.5,990.6 1512.5,991.4 1513.5,992.1 1514.5,992.9 1515.5,993.6 1516.5,994.3 1517.5,995.1 1518.5,995.8 1519.5,996.5 1520.5,997.2 1521.5,998.0 1522.5,998.7 1523.5,999.4 1524.5,1000.1 1525.5,1000.8 1526.5,1001.5 1527.5,1002.2 1528.5,1002.8 1529.5,1003.5 1530.5,1004.2 1531.5,1004.9 1532.5,1005.5 1533.5,1006.2 1534.5,1006.9 1535.5,1007.5 1536.5,1008.2 1537.5,1008.8 1538.5,1009.5 1539.5,1010.1 1540.5,1010.7 1541.5,1011.4 1542.5,1012.0 1543.5,1012.6 1544.5,1013.2 1545.5,1013.9 1546.5,1014.5 1547.5,1015.1 1548.5,1015.7 1549.5,1016.3 1550.5,1016.9 1551.5,1017.5 1552.5,1018.1 1553.5,1018.7 1554.5,1019.2 1555.5,1019.8 1556.5,1020.4 1557.5,1021.0 1558.5,1021.5 1559.5,1022.1 1560.5,1022.7 1561.5,1023.2 1562.5,1023.8 1563.5,1024.3 1564.5,1024.9 1565.5,1025.4 1566.5,1026.0 1567.5,1026.5 1568.5,1027.0 1569.5,1027.6 1570.5,1028.1 1571.5,1028.6 1572.5,1029.2 1573.5,1029.7 1574.5,1030.2 1575.5,1030.7 1576.5,1031.2 1577.5,1031.7 1578.5,1032.2 1579.5,1032.8 1580.5,1033.3 1581.5,1033.8 1582.5,1034.2 1583.5,1034.7 1584.5,1035.2 1585.5,1035.7 1586.5,1036.2 1587.5,1036.7 1588.5,1037.2 1589.5,1037.6 1590.5,1038.1 1591.5,1038.6 1592.5,1039.1 1593.5,1039.5 1594.5,1040.0 1595.5,1040.5 1596.5,1040.9 1597.5,1041.4 1598.5,1041.8 1599.5,1042.3 1600.5,1042.7 1601.5,1043.2 1602.5,1043.6 1603.5,1044.1 1604.5,1044.5 1605.5,1045.0 1606.5,1045.4 1607.5,1045.8 1608.5,1046.3 1609.5,1046.7 1610.5,1047.1 1611.5,1047.6 1612.5,1048.0 1613.5,1048.4 1614.5,1048.8 1615.5,1049.2 1616.5,1049.7 1617.5,1050.1 1618.5,1050.5 1619.5,1050.9 1620.5,1051.3 1621.5,1051.7 1622.5,1052.1 1623.5,1052.5 1624.5,1052.9 1625.5,1053.3 1626.5,1053.7 1627.5,1054.1 1628.5,1054.5 1629.5,1054.8 1630.5,1055.2 1631.5,1055.6 1632.5,1056.0 1633.5,1056.4 1634.5,1056.7 1635.5,1057.1 1636.5,1057.5 1637.5,1057.8 1638.5,1058.2 1639.5,1058.6 1640.5,1058.9 1641.5,1059.3 1642.5,1059.6 1643.5,1060.0 1644.5,1060.4 1645.5,1060.7 1646.5,1061.0 1647.5,1061.4 1648.5,1061.7 1649.5,1062.1 1650.5,1062.4 1651.5,1062.7 1652.5,1063.1 1653.5,1063.4 1654.5,1063.7 1655.5,1064.1 1656.5,1064.4 1657.5,1064.7 1658.5,1065.0 1659.5,1065.3 1660.5,1065.7 1661.5,1066.0 1662.5,1066.3 1663.5,1066.6 1664.5,1066.9 1665.5,1067.2 1666.5,1067.5 1667.5,1067.8 1668.5,1068.1 1669.5,1068.4 1670.5,1068.7 1671.5,1068.9 1672.5,1069.2 1673.5,1069.5 1674.5,1069.8 1675.5,1070.1 1676.5,1070.3 1677.5,1070.6 1678.5,1070.9 1679.5,1071.2 1680.5,1071.4 1681.5,1071.7 1682.5,1072.0 1683.5,1072.2 1684.5,1072.5 1685.5,1072.7 1686.5,1073.0 1687.5,1073.2 1688.5,1073.5 1689.5,1073.7 1690.5,1074.0 1691.5,1074.2 1692.5,1074.4 1693.5,1074.7 1694.5,1074.9 1695.5,1075.1 1696.5,1075.4 1697.5,1075.6 1698.5,1075.8 1699.5,1076.0 1700.5,1076.3 1701.5,1076.5 1702.5,1076.7 1703.5,1076.9 1704.5,1077.1 1705.5,1077.3 1706.5,1077.5 1707.5,1077.7 1708.5,1077.9 1709.5,1078.1 1710.5,1078.3 1711.5,1078.5 1712.5,1078.7 1713.5,1078.9 1714.5,1079.1 1715.5,1079.3 1716.5,1079.4 1717.5,1079.6 1718.5,1079.8 1719.5,1080.0 1720.5,1080.1 1721.5,1080.3 1722.5,1080.5 1723.5,1080.6 1724.5,1080.8 1725.5,1081.0 1726.5,1081.1 1727.5,1081.3 1728.5,1081.4 1729.5,1081.6 1730.5,1081.7 1731.5,1081.9 1732.5,1082.0 1733.5,1082.2 1734.5,1082.3 1735.5,1082.4 1736.5,1082.6 1737.5,1082.7 1738.5,1082.8 1739.5,1082.9 1740.5,1083.1 1741.5,1083.2 1742.5,1083.3 1743.5,1083.4 1744.5,1083.5 1745.5,1083.6 1746.5,1083.7 1747.5,1083.9 1748.5,1084.0 1749.5,1084.1 1750.5,1084.2 1751.5,1084.3 1752.5,1084.3 1753.5,1084.4 1754.5,1084.5 1755.5,1084.6 1756.5,1084.7 1757.5,1084.8 1758.5,1084.9 1759.5,1084.9 1760.5,1085.0 1761.5,1085.1 1762.5,1085.1 1763.5,1085.2 1764.5,1085.3 1765.5,1085.3 1766.5,1085.4 1767.5,1085.5 1768.5,1085.5 1769.5,1085.6 1770.5,1085.6" stroke="#00ffff"/>
<path d="M988.5,795.8 989.5,797.1 990.5,798.4 991.5,799.7 992.5,800.9 993.5,802.1 994.5,803.3 995.5,804.4 996.5,805.5 997.5,806.6 998.5,807.6 999.5,808.6 1000.5,809.6 1001.5,810.5 1002.5,811.3 1003.5,812.2 1004.5,813.0 1005.5,813.7 1006.5,814.4 1007.5,815.1 1008.5,815.8 1009.5,816.4 1010.5,816.9 1011.5,817.4 1012.5,817.9 1013.5,818.4 1014.5,818.8 1015.5,819.1 1016.5,819.4 1017.5,819.7 1018.5,819.9 1019.5,820.1 1020.5,820.3 1021.5,820.4 1022.5,820.4 1023.5,820.5 1024.5,820.4 1025.5,820.4 1026.5,820.3 1027.5,820.1 1028.5,819.9 1029.5,819.6 1030.5,819.4 1031.5,819.0 1032.5,818.7 1033.5,818.3 1034.5,817.8 1035.5,817.4 1036.5,816.8 1037.5,816.3 1038.5,815.7 1039.5,815.1 1040.5,814.5 1041.5,813.8 1042.5,813.1 1043.5,812.4 1044.5,811.6 1045.5,810.8 1046.5,810.0 1047.5,809.2 1048.5,808.3 1049.5,807.5 1050.5,806.6 1051.5,805.6 1052.5,804.7 1053.5,803.7 1054.5,802.8 1055.5,801.8 1056.5,800.8 1057.5,799.8 1058.5,798.7 1059.5,797.7 1060.5,796.6 1061.5,795.6 1062.5,794.5 1063.5,793.4 1064.5,792.3 1065.5,791.2 1066.5,790.1 1067.5,789.0 1068.5,787.9 1069.5,786.8 1070.5,785.7 1071.5,784.6 1072.5,783.5 1073.5,782.3 1074.5,781.2 1075.5,780.1 1076.5,778.9 1077.5,777.8 1078.5,776.6 1079.5,775.5 1080.5,774.3 1081.5,773.1 1082.5,771.9 1083.5,770.7 1084.5,769.5 1085.5,768.3 1086.5,767.1 1087.5,765.8 1088.5,764.6 1089.5,763.3 1090.5,762.0 1091.5,760.7 1092.5,759.4 1093.5,758.1 1094.5,756.8 1095.5,755.4 1096.5,754.1 1097.5,752.7 1098.5,751.3 1099.5,749.9 1100.5,748.5 1101.5,747.0 1102.5,745.6 1103.5,744.1 1104.5,742.6 1105.5,741.1 1106.5,739.6 1107.5,738.1 1108.5,736.5 1109.5,735.0 1110.5,733.5 1111.5,731.9 1112.5,730.4 1113.5,728.8 1114.5,727.3 1115.5,725.7 1116.5,724.2 1117.5,722.6 1118.5,721.1 1119.5,719.6 1120.5,718.1 1121.5,716.6 1122.5,715.1 1123.5,713.6 1124.5,712.1 1125.5,710.7 1126.5,709.2 1127.5,707.8 1128.5,706.4 1129.5,705.0 1130.5,703.6 1131.5,702.2 1132.5,700.8 1133.5,699.4 1134.5,698.1 1135.5,696.7 1136.5,695.4 1137.5,694.0 1138.5,692.7 1139.5,691.4 1140.5,690.1 1141.5,688.8 1142.5,687.5 1143.5,686.3 1144.5,685.0 1145.5,683.8 1146.5,682.5 1147.5,681.3 1148.5,680.1 1149.5,678.8 1150.5,677.6 1151.5,676.4 1152.5,675.2 1153.5,674.1 1154.5,672.9 1155.5,671.7 1156.5,670.6 1157.5,669.4 1158.5,668.3 1159.5,667.1 1160.5,666.0 1161.5,664.9 1162.5,663.8 1163.5,662.7 1164.5,661.6 1165.5,660.5 1166.5,659.4 1167.5,658.3 1168.5,657.3 1169.5,656.2 1170.5,655.2 1171.5,654.1 1172.5,653.1 1173.5,652.1 1174.5,651.1 1175.5,650.1 1176.5,649.2 1177.5,648.2 1178.5,647.2 1179.5,646.3 1180.5,645.4 1181.5,644.5 1182.5,643.6 1183.5,642.7 1184.5,641.9 1185.5,641.0 1186.5,640.2 1187.5,639.4 1188.5,638.6 1189.5,637.8 1190.5,637.1 1191.5,636.4 1192.5,635.7 1193.5,635.0 1194.5,634.3 1195.5,633.6 1196.5,633.0 1197.5,632.4 1198.5,631.8 1199.5,631.3 1200.5,630.7 1201.5,630.2 1202.5,629.7 1203.5,629.3 1204.5,628.8 1205.5,628.4 1206.5,628.0 1207.5,627.6 1208.5,627.3 1209.5,627.0 1210.5,626.7 1211.5,626.5 1212.5,626.2 1213.5,626.0 1214.5,625.9 1215.5,625.7 1216.5,625.6 1217.5,625.5 1218.5,625.4 1219.5,625.4 1220.5,625.4 1221.5,625.4 1222.5,625.4 1223.5,625.5 1224.5,625.6 1225.5,625.7 1226.5,625.8 1227.5,626.0 1228.5,626.1 1229.5,626.3 1230.5,626.5 1231.5,626.8 1232.5,627.0 1233.5,627.3 1234.5,627.6 1235.5,627.9 1236.5,628.3 1237.5,628.6 1238.5,629.0 1239.5,629.4 1240.5,629.8 1241.5,630.2 1242.5,630.7 1243.5,631.1 1244.5,631.6 1245.5,632.1 1246.5,632.6 1247.5,633.1 1248.5,633.7 1249.5,634.2 1250.5,634.8 1251.5,635.4 1252.5,636.0 1253.5,636.6 1254.5,637.2 1255.5,637.8 1256.5,638.5 1257.5,639.1 1258.5,639.8 1259.5,640.5 1260.5,641.2 1261.5,641.9 1262.5,642.6 1263.5,643.3 1264.5,644.0 1265.5,644.7 1266.5,645.5 1267.5,646.2 1268.5,646.9 1269.5,647.7 1270.5,648.4 1271.5,649.2 1272.5,649.9 1273.5,650.7 1274.5,651.4 1275.5,652.2 1276.5,653.0 1277.5,653.7 1278.5,654.5 1279.5,655.3 1280.5,656.0 1281.5,656.8 1282.5,657.5 1283.5,658.3 1284.5,659.0 1285.5,659.8 1286.5,660.5 1287.5,661.3 1288.5,662.0 1289.5,662.7 1290.5,663.4 1291.5,664.1 1292.5,664.8 1293.5,665.5 1294.5,666.2 1295.5,666.9 1296.5,667.6 1297.5,668.3 1298.5,668.9 1299.5,669.6 1300.5,670.3 1301.5,670.9 1302.5,671.6 1303.5,672.2 1304.5,672.9 1305.5,673.5 1306.5,674.2 1307.5,674.8 1308.5,675.5 1309.5,676.1 1310.5,676.7 1311.5,677.4 1312.5,678.0 1313.5,678.7 1314.5,679.3 1315.5,680.0 1316.5,680.6 1317.5,681.2 1318.5,681.9 1319.5,682.6 1320.5,683.2 1321.5,683.9 1322.5,684.5 1323.5,685.2 1324.5,685.9 1325.5,686.6 1326.5,687.2 1327.5,687.9 1328.5,688.6 1329.5,689.3 1330.5,690.1 1331.5,690.8 1332.5,691.5 1333.5,692.2 1334.5,693.0 1335.5,693.7 1336.5,694.5 1337.5,695.3 1338.5,696.1 1339.5,696.9 1340.5,697.8 1341.5,698.7 1342.5,699.6 1343.5,700.5 1344.5,701.5 1345.5,702.5 1346.5,703.6 1347.5,704.7 1348.5,705.8 1349.5,707.0 1350.5,708.2 1351.5,709.4 1352.5,710.7 1353.5,712.1 1354.5,713.5 1355.5,715.0 1356.5,716.5 1357.5,718.0 1358.5,719.6 1359.5,721.2 1360.5,722.8 1361.5,724.5 1362.5,726.2 1363.5,727.9 1364.5,729.6 1365.5,731.3 1366.5,733.1 1367.5,734.9 1368.5,736.7 1369.5,738.6 1370.5,740.5 1371.5,742.4 1372.5,744.4 1373.5,746.4 1374.5,748.5 1375.5,750.6 1376.5,752.7 1377.5,754.9 1378.5,757.1 1379.5,759.3 1380.5,761.5 1381.5,763.8 1382.5,766.1 1383.5,768.4 1384.5,770.7 1385.5,773.0 1386.5,775.3 1387.5,777.6 1388.5,779.9 1389.5,782.2 1390.5,784.5 1391.5,786.7 1392.5,789.0 1393.5,791.2 1394.5,793.5 1395.5,795.7 1396.5,797.9 1397.5,800.1 1398.5,802.4 1399.5,804.6 1400.5,806.8 1401.5,809.0 1402.5,811.2 1403.5,813.4 1404.5,815.6 1405.5,817.8 1406.5,820.1 1407.5,822.3 1408.5,824.5 1409.5,826.7 1410.5,829.0 1411.5,831.2 1412.5,833.4 1413.5,835.7 1414.5,837.9 1415.5,840.1 1416.5,842.4 1417.5,844.6 1418.5,846.8 1419.5,849.0 1420.5,851.2 1421.5,853.4 1422.5,855.6 1423.5,857.8 1424.5,860.0 1425.5,862.2 1426.5,864.3 1427.5,866.4 1428.5,868.6 1429.5,870.7 1430.5,872.8 1431.5,874.9 1432.5,876.9 1433.5,879.0 1434.5,881.0 1435.5,883.0 1436.5,885.0 1437.5,886.9 1438.5,888.9 1439.5,890.8 1440.5,892.7 1441.5,894.5 1442.5,896.4 1443.5,898.2 1444.5,899.9 1445.5,901.7 1446.5,903.4 1447.5,905.1 1448.5,906.7 1449.5,908.4 1450.5,910.0 1451.5,911.5 1452.5,913.0 1453.5,914.5 1454.5,915.9 1455.5,917.4 1456.5,918.7 1457.5,920.1 1458.5,921.4 1459.5,922.7 1460.5,924.0 1461.5,925.2 1462.5,926.5 1463.5,927.7 1464.5,928.9 1465.5,930.1 1466.5,931.3 1467.5,932.4 1468.5,933.6 1469.5,934.7 1470.5,935.9 1471.5,937.0 1472.5,938.2 1473.5,939.3 1474.5,940.5 1475.5,941.6 1476.5,942.8 1477.5,943.9 1478.5,945.0 1479.5,946.1 1480.5,947.1 1481.5,948.1 1482.5,949.1 1483.5,950.1 1484.5,951.0 1485.5,951.9 1486.5,952.8 1487.5,953.7 1488.5,954.6 1489.5,955.5 1490.5,956.3 1491.5,957.1 1492.5,958.0 1493.5,958.8 1494.5,959.7 1495.5,960.5 1496.5,961.4 1497.5,962.2 1498.5,963.0 1499.5,963.9 1500.5,964.7 1501.5,965.6 1502.5,966.4 1503.5,967.2 1504.5,968.1 1505.5,968.9 1506.5,969.7 1507.5,970.5 1508.5,971.4 1509.5,972.2 1510.5,973.0 1511.5,973.8 1512.5,974.6 1513.5,975.5 1514.5,976.3 1515.5,977.1 1516.5,977.9 1517.5,978.7 1518.5,979.5 1519.5,980.3 1520.5,981.1 1521.5,981.9 1522.5,982.7 1523.5,983.4 1524.5,984.2 1525.5,985.0 1526.5,985.8 1527.5,986.6 1528.5,987.3 1529.5,988.1 1530.5,988.9 1531.5,989.6 1532.5,990.4 1533.5,991.1 1534.5,991.9 1535.5,992.6 1536.5,993.4 1537.5,994.1 1538.5,994.8 1539.5,995.6 1540.5,996.3 1541.5,997.0 1542.5,997.7 1543.5,998.4 1544.5,999.2 1545.5,999.9 1546.5,1000.6 1547.5,1001.3 1548.5,1001.9 1549.5,1002.6 1550.5,1003.3 1551.5,1004.0 1552.5,1004.7 1553.5,1005.3 1554.5,1006.0 1555.5,1006.6 1556.5,1007.3 1557.5,1007.9 1558.5,1008.6 1559.5,1009.2 1560.5,1009.8 1561.5,1010.5 1562.5,1011.1 1563.5,1011.7 1564.5,1012.3 1565.5,1012.9 1566.5,1013.5 1567.5,1014.2 1568.5,1014.8 1569.5,1015.3 1570.5,1015.9 1571.5,1016.5 1572.5,1017.1 1573.5,1017.7 1574.5,1018.3 1575.5,1018.8 1576.5,1019.4 1577.5,1020.0 1578.5,1020.5 1579.5,1021.1 1580.5,1021.6 1581.5,1022.2 1582.5,1022.7 1583.5,1023.3 1584.5,1023.8 1585.5,1024.3 1586.5,1024.9 1587.5,1025.4 1588.5,1025.9 1589.5,1026.5 1590.5,1027.0 1591.5,1027.5 1592.5,1028.0 1593.5,1028.5 1594.5,1029.0 1595.5,1029.5 1596.5,1030.0 1597.5,1030.6 1598.5,1031.1 1599.5,1031.5 1600.5,1032.0 1601.5,1032.5 1602.5,1033.0 1603.5,1033.5 1604.5,1034.0 1605.5,1034.5 1606.5,1035.0 1607.5,1035.4 1608.5,1035.9 1609.5,1036.4 1610.5,1036.8 1611.5,1037.3 1612.5,1037.8 1613.5,1038.2 1614.5,1038.7 1615.5,1039.2 1616.5,1039.6 1617.5,1040.1 1618.5,1040.5 1619.5,1041.0 1620.5,1041.4 1621.5,1041.8 1622.5,1042.3 1623.5,1042.7 1624.5,1043.2 1625.5,1043.6 1626.5,1044.0 1627.5,1044.4 1628.5,1044.9 1629.5,1045.3 1630.5,1045.7 1631.5,1046.1 1632.5,1046.5 1633.5,1046.9 1634.5,1047.4 1635.5,1047.8 1636.5,1048.2 1637.5,1048.6 1638.5,1049.0 1639.5,1049.4 1640.5,1049.8 1641.5,1050.2 1642.5,1050.5 1643.5,1050.9 1644.5,1051.3 1645.5,1051.7 1646.5,1052.1 1647.5,1052.5 1648.5,1052.8 1649.5,1053.2 1650.5,1053.6 1651.5,1053.9 1652.5,1054.3 1653.5,1054.7 1654.5,1055.0 1655.5,1055.4 1656.5,1055.8 1657.5,1056.1 1658.5,1056.5 1659.5,1056.8 1660.5,1057.2 1661.5,1057.5 1662.5,1057.8 1663.5,1058.2 1664.5,1058.5 1665.5,1058.9 1666.5,1059.2 1667.5,1059.5 1668.5,1059.8 1669.5,1060.2 1670.5,1060.5 1671.5,1060.8 1672.5,1061.1 1673.5,1061.4 1674.5,1061.8 1675.5,1062.1 1676.5,1062.4 1677.5,1062.7 1678.5,1063.0 1679.5,1063.3 1680.5,1063.6 1681.5,1063.9 1682.5,1064.2 1683.5,1064.5 1684.5,1064.8 1685.5,1065.0 1686.5,1065.3 1687.5,1065.6 1688.5,1065.9 1689.5,1066.2 1690.5,1066.4 1691.5,1066.7 1692.5,1067.0 1693.5,1067.3 1694.5,1067.5 1695.5,1067.8 1696.5,1068.0 1697.5,1068.3 1698.5,1068.6 1699.5,1068.8 1700.5,1069.1 1701.5,1069.3 1702.5,1069.6 1703.5,1069.8 1704.5,1070.0 1705.5,1070.3 1706.5,1070.5 1707.5,1070.8 1708.5,1071.0 1709.5,1071.2 1710.5,1071.5 1711.5,1071.7 1712.5,1071.9 1713.5,1072.1 1714.5,1072.3 1715.5,1072.6 1716.5,1072.8 1717.5,1073.0 1718.5,1073.2 1719.5,1073.4 1720.5,1073.6 1721.5,1073.8 1722.5,1074.0 1723.5,1074.2 1724.5,1074.4 1725.5,1074.6 1726.5,1074.8 1727.5,1075.0 1728.5,1075.2 1729.5,1075.4 1730.5,1075.5 1731.5,1075.7 1732.5,1075.9 1733.5,1076.1 1734.5,1076.3 1735.5,1076.4 1736.5,1076.6 1737.5,1076.8 1738.5,1076.9 1739.5,1077.1 1740.5,1077.3 1741.5,1077.4 1742.5,1077.6 1743.5,1077.7 1744.5,1077.9 1745.5,1078.0 1746.5,1078.2 1747.5,1078.3 1748.5,1078.5 1749.5,1078.6 1750.5,1078.7 1751.5,1078.9 1752.5,1079.0 1753.5,1079.1 1754.5,1079.3 1755.5,1079.4 1756.5,1079.5 1757.5,1079.6 1758.5,1079.8 1759.5,1079.9 1760.5,1080.0 1761.5,1080.1 1762.5,1080.2 1763.5,1080.3 1764.5,1080.4 1765.5,1080.5 1766.5,1080.6 1767.5,1080.7 1768.5,1080.8 1769.5,1080.9 1770.5,1081.0" stroke="#ff00ff"/>
<path d="M988.5,767.7 989.5,769.1 990.5,770.5 991.5,771.9 992.5,773.2 993.5,774.5 994.5,775.7 995.5,776.9 996.5,778.0 997.5,779.1 998.5,780.1 999.5,781.0 1000.5,782.0 1001.5,782.8 1002.5,783.6 1003.5,784.4 1004.5,785.2 1005.5,785.8 1006.5,786.5 1007.5,787.1 1008.5,787.6 1009.5,788.1 1010.5,788.6 1011.5,789.0 1012.5,789.4 1013.5,789.8 1014.5,790.1 1015.5,790.3 1016.5,790.5 1017.5,790.7 1018.5,790.9 1019.5,791.0 1020.5,791.0 1021.5,791.1 1022.5,791.1 1023.5,791.0 1024.5,790.9 1025.5,790.8 1026.5,790.7 1027.5,790.5 1028.5,790.3 1029.5,790.0 1030.5,789.7 1031.5,789.4 1032.5,789.0 1033.5,788.7 1034.5,788.3 1035.5,787.8 1036.5,787.3 1037.5,786.8 1038.5,786.3 1039.5,785.8 1040.5,785.2 1041.5,784.6 1042.5,783.9 1043.5,783.3 1044.5,782.6 1045.5,781.8 1046.5,781.1 1047.5,780.3 1048.5,779.5 1049.5,778.7 1050.5,777.9 1051.5,777.0 1052.5,776.2 1053.5,775.3 1054.5,774.3 1055.5,773.4 1056.5,772.4 1057.5,771.5 1058.5,770.5 1059.5,769.4 1060.5,768.4 1061.5,767.4 1062.5,766.3 1063.5,765.2 1064.5,764.1 1065.5,763.0 1066.5,761.9 1067.5,760.7 1068.5,759.5 1069.5,758.4 1070.5,757.2 1071.5,756.0 1072.5,754.8 1073.5,753.5 1074.5,752.3 1075.5,751.0 1076.5,749.7 1077.5,748.4 1078.5,747.0 1079.5,745.7 1080.5,744.3 1081.5,742.9 1082.5,741.4 1083.5,739.9 1084.5,738.4 1085.5,736.9 1086.5,735.4 1087.5,733.8 1088.5,732.2 1089.5,730.6 1090.5,728.9 1091.5,727.3 1092.5,725.6 1093.5,723.9 1094.5,722.2 1095.5,720.5 1096.5,718.8 1097.5,717.0 1098.5,715.3 1099.5,713.6 1100.5,711.8 1101.5,710.1 1102.5,708.3 1103.5,706.6 1104.5,704.9 1105.5,703.2 1106.5,701.5 1107.5,699.8 1108.5,698.1 1109.5,696.4 1110.5,694.8 1111.5,693.2 1112.5,691.5 1113.5,690.0 1114.5,688.4 1115.5,686.8 1116.5,685.3 1117.5,683.8 1118.5,682.3 1119.5,680.8 1120.5,679.3 1121.5,677.9 1122.5,676.4 1123.5,675.0 1124.5,673.6 1125.5,672.2 1126.5,670.8 1127.5,669.4 1128.5,668.1 1129.5,666.7 1130.5,665.4 1131.5,664.0 1132.5,662.7 1133.5,661.4 1134.5,660.1 1135.5,658.8 1136.5,657.5 1137.5,656.2 1138.5,654.9 1139.5,653.6 1140.5,652.3 1141.5,651.1 1142.5,649.8 1143.5,648.5 1144.5,647.2 1145.5,646.0 1146.5,644.7 1147.5,643.4 1148.5,642.2 1149.5,640.9 1150.5,639.6 1151.5,638.4 1152.5,637.1 1153.5,635.8 1154.5,634.5 1155.5,633.2 1156.5,631.9 1157.5,630.7 1158.5,629.4 1159.5,628.1 1160.5,626.8 1161.5,625.5 1162.5,624.2 1163.5,623.0 1164.5,621.7 1165.5,620.4 1166.5,619.2 1167.5,617.9 1168.5,616.7 1169.5,615.4 1170.5,614.2 1171.5,613.0 1172.5,611.8 1173.5,610.6 1174.5,609.4 1175.5,608.3 1176.5,607.1 1177.5,606.0 1178.5,604.8 1179.5,603.7 1180.5,602.7 1181.5,601.6 1182.5,600.5 1183.5,599.5 1184.5,598.5 1185.5,597.5 1186.5,596.5 1187.5,595.6 1188.5,594.7 1189.5,593.8 1190.5,592.9 1191.5,592.1 1192.5,591.2 1193.5,590.4 1194.5,589.7 1195.5,588.9 1196.5,588.2 1197.5,587.6 1198.5,586.9 1199.5,586.3 1200.5,585.7 1201.5,585.2 1202.5,584.7 1203.5,584.2 1204.5,583.7 1205.5,583.3 1206.5,582.9 1207.5,582.6 1208.5,582.3 1209.5,582.0 1210.5,581.7 1211.5,581.5 1212.5,581.3 1213.5,581.1 1214.5,580.9 1215.5,580.8 1216.5,580.7 1217.5,580.7 1218.5,580.6 1219.5,580.6 1220.5,580.7 1221.5,580.7 1222.5,580.8 1223.5,580.9 1224.5,581.0 1225.5,581.1 1226.5,581.3 1227.5,581.5 1228.5,581.7 1229.5,581.9 1230.5,582.2 1231.5,582.5 1232.5,582.8 1233.5,583.1 1234.5,583.4 1235.5,583.8 1236.5,584.2 1237.5,584.6 1238.5,585.0 1239.5,585.4 1240.5,585.9 1241.5,586.4 1242.5,586.8 1243.5,587.4 1244.5,587.9 1245.5,588.4 1246.5,589.0 1247.5,589.5 1248.5,590.1 1249.5,590.7 1250.5,591.4 1251.5,592.0 1252.5,592.6 1253.5,593.3 1254.5,593.9 1255.5,594.6 1256.5,595.3 1257.5,596.0 1258.5,596.7 1259.5,597.4 1260.5,598.2 1261.5,598.9 1262.5,599.7 1263.5,600.4 1264.5,601.2 1265.5,602.0 1266.5,602.7 1267.5,603.5 1268.5,604.3 1269.5,605.1 1270.5,605.9 1271.5,606.7 1272.5,607.5 1273.5,608.3 1274.5,609.2 1275.5,610.0 1276.5,610.8 1277.5,611.6 1278.5,612.5 1279.5,613.3 1280.5,614.1 1281.5,614.9 1282.5,615.8 1283.5,616.6 1284.5,617.4 1285.5,618.3 1286.5,619.1 1287.5,619.9 1288.5,620.7 1289.5,621.5 1290.5,622.4 1291.5,623.2 1292.5,624.0 1293.5,624.8 1294.5,625.6 1295.5,626.3 1296.5,627.1 1297.5,627.9 1298.5,628.7 1299.5,629.5 1300.5,630.2 1301.5,631.0 1302.5,631.7 1303.5,632.5 1304.5,633.2 1305.5,633.9 1306.5,634.6 1307.5,635.4 1308.5,636.1 1309.5,636.8 1310.5,637.4 1311.5,638.1 1312.5,638.8 1313.5,639.5 1314.5,640.1 1315.5,640.8 1316.5,641.4 1317.5,642.1 1318.5,642.8 1319.5,643.4 1320.5,644.1 1321.5,644.8 1322.5,645.4 1323.5,646.1 1324.5,646.8 1325.5,647.6 1326.5,648.3 1327.5,649.0 1328.5,649.8 1329.5,650.6 1330.5,651.4 1331.5,652.2 1332.5,653.1 1333.5,654.0 1334.5,654.9 1335.5,655.9 1336.5,656.8 1337.5,657.8 1338.5,658.8 1339.5,659.9 1340.5,661.0 1341.5,662.1 1342.5,663.2 1343.5,664.4 1344.5,665.6 1345.5,666.8 1346.5,668.0 1347.5,669.3 1348.5,670.6 1349.5,671.9 1350.5,673.3 1351.5,674.7 1352.5,676.1 1353.5,677.5 1354.5,679.0 1355.5,680.5 1356.5,682.0 1357.5,683.6 1358.5,685.2 1359.5,686.8 1360.5,688.5 1361.5,690.1 1362.5,691.8 1363.5,693.6 1364.5,695.4 1365.5,697.2 1366.5,699.0 1367.5,700.9 1368.5,702.8 1369.5,704.7 1370.5,706.7 1371.5,708.7 1372.5,710.7 1373.5,712.8 1374.5,714.9 1375.5,717.1 1376.5,719.2 1377.5,721.4 1378.5,723.7 1379.5,725.9 1380.5,728.2 1381.5,730.5 1382.5,732.8 1383.5,735.1 1384.5,737.4 1385.5,739.8 1386.5,742.1 1387.5,744.5 1388.5,746.8 1389.5,749.2 1390.5,751.6 1391.5,754.0 1392.5,756.3 1393.5,758.7 1394.5,761.1 1395.5,763.4 1396.5,765.8 1397.5,768.2 1398.5,770.5 1399.5,772.9 1400.5,775.2 1401.5,777.6 1402.5,779.9 1403.5,782.3 1404.5,784.6 1405.5,787.0 1406.5,789.3 1407.5,791.6 1408.5,794.0 1409.5,796.3 1410.5,798.6 1411.5,801.0 1412.5,803.3 1413.5,805.6 1414.5,807.9 1415.5,810.2 1416.5,812.5 1417.5,814.8 1418.5,817.2 1419.5,819.5 1420.5,821.8 1421.5,824.0 1422.5,826.3 1423.5,828.6 1424.5,830.9 1425.5,833.2 1426.5,835.5 1427.5,837.8 1428.5,840.0 1429.5,842.3 1430.5,844.5 1431.5,846.8 1432.5,849.0 1433.5,851.2 1434.5,853.4 1435.5,855.6 1436.5,857.7 1437.5,859.9 1438.5,862.0 1439.5,864.1 1440.5,866.2 1441.5,868.3 1442.5,870.3 1443.5,872.4 1444.5,874.4 1445.5,876.3 1446.5,878.3 1447.5,880.2 1448.5,882.1 1449.5,884.0 1450.5,885.9 1451.5,887.7 1452.5,889.5 1453.5,891.3 1454.5,893.0 1455.5,894.7 1456.5,896.4 1457.5,898.1 1458.5,899.7 1459.5,901.4 1460.5,903.0 1461.5,904.5 1462.5,906.1 1463.5,907.6 1464.5,909.1 1465.5,910.5 1466.5,911.9 1467.5,913.3 1468.5,914.7 1469.5,916.1 1470.5,917.4 1471.5,918.7 1472.5,919.9 1473.5,921.2 1474.5,922.4 1475.5,923.6 1476.5,924.8 1477.5,925.9 1478.5,927.1 1479.5,928.2 1480.5,929.3 1481.5,930.4 1482.5,931.5 1483.5,932.6 1484.5,933.6 1485.5,934.6 1486.5,935.7 1487.5,936.7 1488.5,937.7 1489.5,938.7 1490.5,939.7 1491.5,940.7 1492.5,941.7 1493.5,942.7 1494.5,943.6 1495.5,944.6 1496.5,945.6 1497.5,946.5 1498.5,947.5 1499.5,948.4 1500.5,949.4 1501.5,950.3 1502.5,951.3 1503.5,952.2 1504.5,953.1 1505.5,954.1 1506.5,955.0 1507.5,955.9 1508.5,956.8 1509.5,957.7 1510.5,958.6 1511.5,959.6 1512.5,960.5 1513.5,961.3 1514.5,962.2 1515.5,963.1 1516.5,964.0 1517.5,964.9 1518.5,965.8 1519.5,966.6 1520.5,967.5 1521.5,968.4 1522.5,969.2 1523.5,970.1 1524.5,971.0 1525.5,971.8 1526.5,972.7 1527.5,973.5 1528.5,974.3 1529.5,975.2 1530.5,976.0 1531.5,976.8 1532.5,977.7 1533.5,978.5 1534.5,979.3 1535.5,980.1 1536.5,981.0 1537.5,981.8 1538.5,982.6 1539.5,983.4 1540.5,984.2 1541.5,985.0 1542.5,985.8 1543.5,986.6 1544.5,987.4 1545.5,988.2 1546.5,989.0 1547.5,989.7 1548.5,990.5 1549.5,991.3 1550.5,992.1 1551.5,992.9 1552.5,993.6 1553.5,994.4 1554.5,995.2 1555.5,995.9 1556.5,996.7 1557.5,997.4 1558.5,998.2 1559.5,998.9 1560.5,999.7 1561.5,1000.4 1562.5,1001.1 1563.5,1001.9 1564.5,1002.6 1565.5,1003.3 1566.5,1004.0 1567.5,1004.7 1568.5,1005.4 1569.5,1006.1 1570.5,1006.8 1571.5,1007.4 1572.5,1008.1 1573.5,1008.7 1574.5,1009.4 1575.5,1010.0 1576.5,1010.7 1577.5,1011.3 1578.5,1011.9 1579.5,1012.5 1580.5,1013.1 1581.5,1013.7 1582.5,1014.3 1583.5,1014.8 1584.5,1015.4 1585.5,1016.0 1586.5,1016.5 1587.5,1017.1 1588.5,1017.6 1589.5,1018.2 1590.5,1018.7 1591.5,1019.2 1592.5,1019.8 1593.5,1020.3 1594.5,1020.8 1595.5,1021.3 1596.5,1021.8 1597.5,1022.4 1598.5,1022.9 1599.5,1023.4 1600.5,1023.9 1601.5,1024.4 1602.5,1024.9 1603.5,1025.4 1604.5,1025.9 1605.5,1026.4 1606.5,1026.9 1607.5,1027.4 1608.5,1027.9 1609.5,1028.4 1610.5,1028.9 1611.5,1029.3 1612.5,1029.8 1613.5,1030.3 1614.5,1030.8 1615.5,1031.3 1616.5,1031.7 1617.5,1032.2 1618.5,1032.7 1619.5,1033.2 1620.5,1033.6 1621.5,1034.1 1622.5,1034.6 1623.5,1035.0 1624.5,1035.5 1625.5,1035.9 1626.5,1036.4 1627.5,1036.9 1628.5,1037.3 1629.5,1037.8 1630.5,1038.2 1631.5,1038.7 1632.5,1039.1 1633.5,1039.5 1634.5,1040.0 1635.5,1040.4 1636.5,1040.8 1637.5,1041.3 1638.5,1041.7 1639.5,1042.1 1640.5,1042.6 1641.5,1043.0 1642.5,1043.4 1643.5,1043.8 1644.5,1044.2 1645.5,1044.7 1646.5,1045.1 1647.5,1045.5 1648.5,1045.9 1649.5,1046.3 1650.5,1046.7 1651.5,1047.1 1652.5,1047.5 1653.5,1047.9 1654.5,1048.3 1655.5,1048.7 1656.5,1049.1 1657.5,1049.5 1658.5,1049.9 1659.5,1050.2 1660.5,1050.6 1661.5,1051.0 1662.5,1051.4 1663.5,1051.7 1664.5,1052.1 1665.5,1052.5 1666.5,1052.9 1667.5,1053.2 1668.5,1053.6 1669.5,1053.9 1670.5,1054.3 1671.5,1054.7 1672.5,1055.0 1673.5,1055.4 1674.5,1055.7 1675.5,1056.0 1676.5,1056.4 1677.5,1056.7 1678.5,1057.1 1679.5,1057.4 1680.5,1057.7 1681.5,1058.1 1682.5,1058.4 1683.5,1058.7 1684.5,1059.0 1685.5,1059.4 1686.5,1059.7 1687.5,1060.0 1688.5,1060.3 1689.5,1060.6 1690.5,1060.9 1691.5,1061.2 1692.5,1061.5 1693.5,1061.8 1694.5,1062.1 1695.5,1062.4 1696.5,1062.7 1697.5,1063.0 1698.5,1063.3 1699.5,1063.6 1700.5,1063.9 1701.5,1064.2 1702.5,1064.4 1703.5,1064.7 1704.5,1065.0 1705.5,1065.2 1706.5,1065.5 1707.5,1065.8 1708.5,1066.0 1709.5,1066.3 1710.5,1066.6 1711.5,1066.8 1712.5,1067.1 1713.5,1067.3 1714.5,1067.6 1715.5,1067.8 1716.5,1068.0 1717.5,1068.3 1718.5,1068.5 1719.5,1068.7 1720.5,1069.0 1721.5,1069.2 1722.5,1069.4 1723.5,1069.6 1724.5,1069.9 1725.5,1070.1 1726.5,1070.3 1727.5,1070.5 1728.5,1070.7 1729.5,1070.9 1730.5,1071.1 1731.5,1071.3 1732.5,1071.5 1733.5,1071.7 1734.5,1071.9 1735.5,1072.1 1736.5,1072.3 1737.5,1072.5 1738.5,1072.6 1739.5,1072.8 1740.5,1073.0 1741.5,1073.2 1742.5,1073.3 1743.5,1073.5 1744.5,1073.6 1745.5,1073.8 1746.5,1074.0 1747.5,1074.1 1748.5,1074.3 1749.5,1074.4 1750.5,1074.6 1751.5,1074.7 1752.5,1074.8 1753.5,1075.0 1754.5,1075.1 1755.5,1075.2 1756.5,1075.4 1757.5,1075.5 1758.5,1075.6 1759.5,1075.7 1760.5,1075.8 1761.5,1076.0 1762.5,1076.1 1763.5,1076.2 1764.5,1076.3 1765.5,1076.4 1766.5,1076.5 1767.5,1076.6 1768.5,1076.7 1769.5,1076.7 1770.5,1076.8" stroke="#800080"/>
</g>
<rect x="988.3" y="537.3" width="782.5" height="555.7" fill="none" stroke="#1a1a1a" stroke-width="2.3"/>
<path d="M976.4,1078.4H988.3M976.4,1003.2H988.3M976.4,928.0H988.3M976.4,852.8H988.3M976.4,777.6H988.3M976.4,702.4H988.3M976.4,627.2H988.3M976.4,552.0H988.3M981.9,1040.8H988.3M981.9,965.6H988.3M981.9,890.4H988.3M981.9,815.2H988.3M981.9,740.0H988.3M981.9,664.8H988.3M981.9,589.6H988.3M1037.5,1093.0V1105.3M1159.6,1093.0V1105.3M1281.7,1093.0V1105.3M1403.7,1093.0V1105.3M1525.8,1093.0V1105.3M1647.9,1093.0V1105.3M1770.0,1093.0V1105.3M1098.5,1093.0V1100.4M1220.6,1093.0V1100.4M1342.7,1093.0V1100.4M1464.8,1093.0V1100.4M1586.9,1093.0V1100.4M1708.9,1093.0V1100.4" stroke="#1a1a1a" stroke-width="2.4" fill="none"/>
<text transform="translate(924.15,1084.20) scale(1.0064,1)" font-size="22.80" fill="#1a1a1a" stroke="#1a1a1a" stroke-width="0.5">0.05</text>
<text transform="translate(924.16,1009.00) scale(1.0048,1)" font-size="22.80" fill="#1a1a1a" stroke="#1a1a1a" stroke-width="0.5">0.10</text>
<text transform="translate(924.15,933.80) scale(1.0064,1)" font-size="22.80" fill="#1a1a1a" stroke="#1a1a1a" stroke-width="0.5">0.15</text>
<text transform="translate(924.16,858.60) scale(1.0048,1)" font-size="22.80" fill="#1a1a1a" stroke="#1a1a1a" stroke-width="0.5">0.20</text>
<text transform="translate(924.15,783.40) scale(1.0064,1)" font-size="22.80" fill="#1a1a1a" stroke="#1a1a1a" stroke-width="0.5">0.25</text>
<text transform="translate(924.16,708.20) scale(1.0048,1)" font-size="22.80" fill="#1a1a1a" stroke="#1a1a1a" stroke-width="0.5">0.30</text>
<text transform="translate(924.15,633.00) scale(1.0064,1)" font-size="22.80" fill="#1a1a1a" stroke="#1a1a1a" stroke-width="0.5">0.35</text>
<text transform="translate(924.16,557.80) scale(1.0048,1)" font-size="22.80" fill="#1a1a1a" stroke="#1a1a1a" stroke-width="0.5">0.40</text>
<text transform="translate(1019.84,1129.20) scale(0.9802,1)" font-size="22.80" fill="#1a1a1a" stroke="#1a1a1a" stroke-width="0.5">450</text>
<text transform="translate(1141.53,1129.20) scale(0.9907,1)" font-size="22.80" fill="#1a1a1a" stroke="#1a1a1a" stroke-width="0.5">500</text>
<text transform="translate(1263.61,1129.20) scale(0.9907,1)" font-size="22.80" fill="#1a1a1a" stroke="#1a1a1a" stroke-width="0.5">550</text>
<text transform="translate(1385.44,1129.20) scale(0.9974,1)" font-size="22.80" fill="#1a1a1a" stroke="#1a1a1a" stroke-width="0.5">600</text>
<text transform="translate(1507.52,1129.20) scale(0.9974,1)" font-size="22.80" fill="#1a1a1a" stroke="#1a1a1a" stroke-width="0.5">650</text>
<text transform="translate(1629.58,1129.20) scale(0.9977,1)" font-size="22.80" fill="#1a1a1a" stroke="#1a1a1a" stroke-width="0.5">700</text>
<text transform="translate(1751.66,1129.20) scale(0.9977,1)" font-size="22.80" fill="#1a1a1a" stroke="#1a1a1a" stroke-width="0.5">750</text>
<text transform="translate(1263.46,1155.60) scale(1.0794,1)" font-size="28.60" fill="#1a1a1a" stroke="#1a1a1a" stroke-width="0.2">Wavelength (nm)</text>
<text transform="translate(909.30,953.56) rotate(-90) scale(1,1.0326)" font-size="30.02" fill="#1a1a1a" stroke="#1a1a1a" stroke-width="0.2">Absorbance (a.u.)</text>
<path d="M1548,600.5H1641.5" stroke="#000000" stroke-width="3.2"/>
<text transform="translate(1650.95,611.30) scale(1.0759,1)" font-size="33.30" fill="#111" stroke="#111" stroke-width="0.5">0 s</text>
<path d="M1548,643.1H1641.5" stroke="#ff0000" stroke-width="3.2"/>
<text transform="translate(1650.58,653.95) scale(1.0572,1)" font-size="33.30" fill="#111" stroke="#111" stroke-width="0.5">20 s</text>
<path d="M1548,685.8H1641.5" stroke="#00ff00" stroke-width="3.2"/>
<text transform="translate(1651.55,696.60) scale(1.0414,1)" font-size="33.30" fill="#111" stroke="#111" stroke-width="0.5">40 s</text>
<path d="M1548,728.5H1641.5" stroke="#0000ff" stroke-width="3.2"/>
<text transform="translate(1650.56,739.25) scale(1.0575,1)" font-size="33.30" fill="#111" stroke="#111" stroke-width="0.5">60 s</text>
<path d="M1548,771.1H1641.5" stroke="#00ffff" stroke-width="3.2"/>
<text transform="translate(1650.83,781.90) scale(1.0532,1)" font-size="33.30" fill="#111" stroke="#111" stroke-width="0.5">80 s</text>
<path d="M1548,813.8H1641.5" stroke="#ff00ff" stroke-width="3.2"/>
<text transform="translate(1651.98,824.55) scale(1.0525,1)" font-size="33.30" fill="#111" stroke="#111" stroke-width="0.5">100 s</text>
<path d="M1548,856.4H1641.5" stroke="#800080" stroke-width="3.2"/>
<text transform="translate(1651.98,867.20) scale(1.0525,1)" font-size="33.30" fill="#111" stroke="#111" stroke-width="0.5">120 s</text>
</svg></body></html>
